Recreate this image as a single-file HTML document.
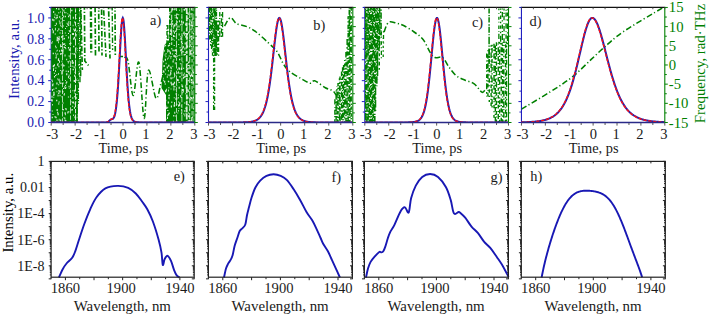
<!DOCTYPE html>
<html><head><meta charset="utf-8"><title>figure</title>
<style>html,body{margin:0;padding:0;background:#fff;width:709px;height:316px;overflow:hidden}svg{display:block;font-family:"Liberation Serif",serif}</style>
</head><body><svg width="709" height="316" viewBox="0 0 709 316" font-family="Liberation Serif, serif"><defs><clipPath id="c0"><rect x="51.2" y="6.95" width="143.6" height="116.05"/></clipPath><clipPath id="c1"><rect x="208.5" y="6.95" width="144.3" height="116.05"/></clipPath><clipPath id="c2"><rect x="364.8" y="6.95" width="143.7" height="116.05"/></clipPath><clipPath id="c3"><rect x="521.45" y="6.95" width="143.35" height="116.05"/></clipPath><clipPath id="d4"><path d="M51,7.45 L79,7.45 L79,60 L77.5,122.5 L51,122.5Z"/></clipPath><clipPath id="d5"><path d="M169,7.45 L195.5,7.45 L195.5,122.5 L166,122.5 L166,95 L161.5,88 L162.5,60 L164.5,45 L169,40Z"/></clipPath></defs><rect width="709" height="316" fill="#fff"/><path d="M51.2,7.45V122.5" stroke="#2020c0" stroke-width="1.1"/><path d="M208.5,7.45V122.5" stroke="#2020c0" stroke-width="1.1"/><path d="M364.8,7.45V122.5" stroke="#2020c0" stroke-width="1.1"/><path d="M521.45,7.45V122.5" stroke="#2020c0" stroke-width="1.1"/><path clip-path="url(#c0)" d="M51,7.45 L79,7.45 L79,60 L77.5,122.5 L51,122.5Z" fill="#008000"/><path clip-path="url(#d4)" d="M60.07,24.81h1.2v1.0h-1.2zM53.03,69.1h1.0v2.0h-1.0zM52.62,65.83h0.8v1.0h-0.8zM63.14,15.49h0.8v2.0h-0.8zM62.89,102.58h0.8v1.0h-0.8zM68.66,74.52h0.8v2.0h-0.8zM67.4,13.16h0.8v1.0h-0.8zM66.59,22.77h1.0v1.0h-1.0zM66.14,73.13h1.2v2.0h-1.2zM56.06,74.36h1.2v1.0h-1.2zM61.43,70.47h0.8v2.0h-0.8zM52.67,31.15h1.2v2.0h-1.2zM62.97,43.59h1.2v1.5h-1.2zM61.12,36.03h0.8v2.0h-0.8zM72.84,16.87h1.0v2.0h-1.0zM64.86,46.97h1.0v1.5h-1.0zM68.05,15.87h1.2v1.5h-1.2zM55.62,46.8h1.0v1.5h-1.0zM52.1,84.33h1.2v2.0h-1.2zM73.09,101.6h1.0v2.0h-1.0zM60.8,64.59h1.0v1.0h-1.0zM74.52,116.14h1.0v2.0h-1.0zM69.6,14.43h1.2v1.5h-1.2zM69.12,121.71h1.0v1.5h-1.0zM71.07,109.5h1.0v1.0h-1.0zM77.34,48.35h1.2v1.0h-1.2zM64.82,32.55h1.0v1.0h-1.0zM71.67,53.23h1.0v1.0h-1.0zM55.66,53.66h1.0v1.0h-1.0zM73.94,106.85h1.0v2.0h-1.0zM62.63,48.73h1.0v1.0h-1.0zM55.23,27.72h0.8v2.0h-0.8zM57.53,63.24h1.2v1.0h-1.2zM58.36,7.92h1.0v2.0h-1.0zM61.34,72.61h0.8v2.0h-0.8zM75.06,116.77h1.2v2.0h-1.2zM71.71,59.99h1.2v2.0h-1.2zM61.99,53.35h0.8v1.5h-0.8zM68.76,14.61h0.8v1.0h-0.8zM63.34,20.1h1.2v1.0h-1.2zM53.87,72.66h1.2v1.0h-1.2zM77.57,78.06h0.8v1.0h-0.8zM68.19,24.54h1.0v1.5h-1.0zM67.86,62h0.8v1.5h-0.8zM78.81,61.06h1.0v1.5h-1.0zM53.4,19.21h1.0v2.0h-1.0zM58.41,102.81h0.8v2.0h-0.8zM51.65,116.86h1.2v1.5h-1.2zM55.1,69.94h0.8v2.0h-0.8zM59.35,81.42h0.8v2.0h-0.8zM74.67,67.09h0.8v1.5h-0.8zM72.61,68.72h1.2v1.5h-1.2zM68.82,78h0.8v1.0h-0.8zM73.91,92.57h0.8v1.0h-0.8zM65.49,48.36h0.8v1.0h-0.8zM73.12,61.78h0.8v2.0h-0.8zM67.94,47.06h1.2v1.5h-1.2zM77.74,49.4h0.8v1.0h-0.8zM57.35,30.08h0.8v1.5h-0.8zM68.47,111.03h0.8v1.5h-0.8zM76.46,47.03h1.2v1.0h-1.2zM74.37,21.24h1.0v2.0h-1.0zM72,62.45h0.8v1.5h-0.8zM73.1,45.71h1.2v1.5h-1.2zM63.97,92.97h0.8v2.0h-0.8zM55.45,121.71h0.8v1.0h-0.8zM67.54,60.99h1.2v1.0h-1.2zM68.12,76h1.0v2.0h-1.0zM77.25,25.39h1.2v1.0h-1.2zM51.6,99.42h1.2v2.0h-1.2zM53.88,93.68h0.8v1.5h-0.8zM78.62,29.86h0.8v1.0h-0.8zM58.05,41.16h0.8v2.0h-0.8zM60.13,70.08h0.8v1.0h-0.8zM76.48,48.15h1.0v2.0h-1.0zM67.33,111.49h1.0v2.0h-1.0zM54.66,24.92h1.2v1.0h-1.2zM75.44,96.79h1.2v1.0h-1.2zM72.73,24.68h0.8v1.5h-0.8zM68.33,21.29h0.8v1.5h-0.8zM70.11,68.51h1.0v1.0h-1.0zM75.73,13.99h0.8v1.5h-0.8zM52.18,18.7h1.0v2.0h-1.0zM51.78,110.31h0.8v1.5h-0.8zM60.12,119.44h1.2v2.0h-1.2zM56.58,39.34h1.2v2.0h-1.2zM73.61,65.87h0.8v2.0h-0.8zM65.65,108.23h1.0v2.0h-1.0zM76,30.76h1.0v1.0h-1.0zM62.67,52.59h1.0v1.0h-1.0zM69.79,56.73h0.8v2.0h-0.8zM59.48,21.53h0.8v2.0h-0.8zM69.02,49.58h1.0v1.0h-1.0zM78.09,32.71h0.8v1.5h-0.8zM75.78,26.18h1.2v1.0h-1.2zM55.52,57.1h1.2v1.5h-1.2zM60.5,29.97h1.0v1.0h-1.0zM71.22,9.69h1.2v1.5h-1.2zM63.33,9.53h1.0v2.0h-1.0zM68.47,66.39h0.8v1.0h-0.8zM78.58,98.15h0.8v1.0h-0.8zM58.44,12h0.8v1.5h-0.8zM72.16,101.77h1.2v1.5h-1.2zM62.37,69.19h1.2v2.0h-1.2zM64.85,45.08h1.0v1.0h-1.0zM73.39,28.54h0.8v1.5h-0.8zM77.27,80.44h1.0v1.0h-1.0zM68.03,33.04h1.0v1.0h-1.0zM63.71,46.47h1.2v1.5h-1.2zM76.95,38.27h0.8v1.0h-0.8zM65.75,34.88h0.8v1.0h-0.8zM58.33,28.29h1.0v2.0h-1.0zM59.54,94.83h1.0v1.5h-1.0zM65,27.92h1.0v1.0h-1.0zM78.85,11.7h0.8v2.0h-0.8zM65.16,119.97h1.2v1.5h-1.2zM57.88,58.88h1.2v2.0h-1.2zM63.1,64.4h1.0v2.0h-1.0zM59.62,32.21h0.8v1.5h-0.8zM56.56,108.92h1.2v2.0h-1.2zM54.91,121.28h0.8v1.0h-0.8zM51.4,79.41h1.0v1.5h-1.0zM55.57,17.17h1.0v2.0h-1.0zM69.78,39.89h0.8v2.0h-0.8zM59.21,60.31h0.8v1.5h-0.8zM63.48,37.74h1.0v2.0h-1.0zM60.06,11.41h1.0v1.0h-1.0zM60.98,7.57h1.0v1.0h-1.0zM64.29,65.29h0.8v1.0h-0.8zM65.13,8.02h1.0v1.0h-1.0zM55.03,74.96h1.0v1.0h-1.0zM59.39,79.89h0.8v2.0h-0.8zM77.81,105.62h0.8v2.0h-0.8zM76,97.65h1.2v1.5h-1.2zM72.4,90.36h1.0v1.0h-1.0zM58.96,78.63h0.8v1.0h-0.8zM74.1,89.71h1.2v2.0h-1.2zM63.02,88.11h1.2v1.0h-1.2zM76.48,94.07h1.2v1.0h-1.2zM74.14,74.65h1.2v2.0h-1.2zM77.77,81.41h0.8v1.0h-0.8zM52.17,80.75h0.8v1.5h-0.8zM74.4,71.71h1.2v1.0h-1.2zM68.53,85.76h1.0v1.5h-1.0zM51.09,99.23h1.2v2.0h-1.2zM76.14,18.03h1.2v1.0h-1.2zM71.88,61.97h0.8v1.5h-0.8zM57.57,94.48h0.8v2.0h-0.8zM69.2,60.41h1.0v1.0h-1.0zM64.41,86.11h0.8v2.0h-0.8zM68.72,30.26h1.2v1.0h-1.2zM60.29,82.41h1.2v1.5h-1.2zM68.39,22.8h1.0v1.0h-1.0zM64.6,119.34h0.8v2.0h-0.8zM57.1,63.78h1.2v2.0h-1.2zM59,61.05h0.8v2.0h-0.8zM56.58,119.98h1.0v1.0h-1.0zM59.11,16.25h1.2v1.5h-1.2zM78.83,51.96h0.8v1.0h-0.8zM67.28,23.76h1.2v1.5h-1.2zM77.68,22.71h1.2v2.0h-1.2zM58.83,20.41h1.0v1.0h-1.0zM64.94,108.25h1.0v1.0h-1.0zM55.45,116.74h1.2v1.5h-1.2zM62.35,91.11h1.0v1.5h-1.0zM61.53,21.36h1.0v1.0h-1.0zM60.09,46.37h1.0v1.0h-1.0zM77.32,29.97h0.8v2.0h-0.8zM59.12,50.27h1.0v1.5h-1.0zM78.97,75.23h1.0v1.5h-1.0zM72.16,105.73h1.0v1.0h-1.0zM52.45,83.61h1.2v1.0h-1.2zM57.98,38.02h1.2v1.5h-1.2zM56.32,50.4h1.0v1.0h-1.0zM73.73,80.03h1.2v2.0h-1.2zM56.7,16.72h1.2v1.5h-1.2zM63.62,94.04h1.2v1.5h-1.2zM64.6,112.36h1.2v1.0h-1.2zM55.78,55.18h1.0v1.5h-1.0zM58.16,92.44h1.2v1.5h-1.2zM62.37,34.91h1.0v2.0h-1.0zM69.73,21.23h1.2v1.0h-1.2zM53.1,65.04h1.0v2.0h-1.0zM57.16,111.72h1.0v1.5h-1.0zM54.91,29.59h0.8v1.0h-0.8zM60.57,17.93h0.8v1.5h-0.8zM58.23,72.98h0.8v2.0h-0.8zM75.38,51.5h1.2v2.0h-1.2zM56.88,38.54h0.8v1.5h-0.8zM58.77,118.78h0.8v2.0h-0.8zM65.1,79.89h0.8v1.0h-0.8zM58.59,36.03h1.0v2.0h-1.0zM63.48,117.2h0.8v1.0h-0.8zM51.9,89.08h1.0v2.0h-1.0zM64.72,15.86h1.2v1.5h-1.2zM78.22,36.04h0.8v1.0h-0.8zM55.32,67.55h1.2v1.0h-1.2zM77.36,90.49h1.2v1.5h-1.2zM53.38,96.83h0.8v1.0h-0.8zM57.51,113.29h1.2v2.0h-1.2zM59.51,22.17h1.0v2.0h-1.0zM68.82,87.82h0.8v1.0h-0.8zM52.97,67.79h1.2v1.0h-1.2zM61.87,33.17h1.2v1.0h-1.2zM51.29,42.14h1.0v1.5h-1.0zM77.85,81.61h0.8v1.5h-0.8zM65.74,70.38h0.8v1.5h-0.8zM70.73,42.82h0.8v1.0h-0.8zM64.95,85.05h1.0v1.0h-1.0zM58.2,84.23h1.0v1.0h-1.0zM64.8,87.5h1.2v1.5h-1.2zM61.14,53.05h0.8v1.5h-0.8zM71.7,65.54h0.8v1.5h-0.8zM78.16,43.31h0.8v1.0h-0.8zM64.02,37.94h1.0v1.0h-1.0zM77.65,64.49h0.8v1.0h-0.8zM64.58,112.19h0.8v2.0h-0.8zM55.1,52.72h0.8v1.0h-0.8zM78.28,23.78h0.8v2.0h-0.8zM52.68,52.7h1.2v1.5h-1.2zM71.52,122.22h0.8v1.5h-0.8zM56.34,82.52h1.2v2.0h-1.2zM64.09,43.33h1.2v1.5h-1.2zM74.5,120.77h1.0v1.0h-1.0zM54.05,16.45h0.8v1.5h-0.8zM62.77,109.29h1.2v1.0h-1.2zM61.64,95.89h1.0v1.5h-1.0zM53.46,88.59h0.8v1.5h-0.8zM66.16,58.8h1.0v1.5h-1.0zM71.64,62.05h1.2v1.5h-1.2zM57.94,79.4h1.0v1.0h-1.0zM61.52,60.84h0.8v1.5h-0.8zM56.46,14.68h1.2v1.5h-1.2zM61.16,45.99h1.2v1.0h-1.2zM58.34,89.9h1.0v1.5h-1.0zM59.33,90.47h1.2v2.0h-1.2zM77.5,14.97h0.8v1.0h-0.8zM64.31,117.53h1.0v1.5h-1.0zM76.58,101.19h0.8v1.5h-0.8zM56.12,99.79h1.2v1.5h-1.2zM74.04,96.36h1.2v1.0h-1.2zM60.18,44.21h1.0v2.0h-1.0zM53.21,30.15h0.8v1.0h-0.8zM62.42,82.18h1.0v2.0h-1.0zM66.25,25.94h1.0v1.0h-1.0zM78.66,37.93h0.8v1.0h-0.8zM53.7,64.8h1.2v1.5h-1.2zM55.85,22.74h1.0v2.0h-1.0zM75.96,34.48h1.2v2.0h-1.2zM72.27,97.16h1.0v1.5h-1.0zM58.82,38.24h1.0v2.0h-1.0zM58.29,58h0.8v1.0h-0.8zM57.59,39.82h1.2v1.0h-1.2zM60.14,53.02h0.8v2.0h-0.8zM65.74,82.19h0.8v2.0h-0.8zM63.99,11.71h0.8v1.5h-0.8zM75.72,34.04h1.0v1.5h-1.0zM52.13,41.24h0.8v1.0h-0.8zM56.31,119.39h1.2v1.0h-1.2zM77.04,50.28h0.8v1.5h-0.8zM67.89,96.61h1.2v1.0h-1.2zM53.96,76.04h1.2v1.5h-1.2zM57.09,49.87h0.8v1.0h-0.8zM56.71,36.78h1.2v2.0h-1.2zM69.25,30.86h0.8v1.5h-0.8zM62.45,50.23h1.2v1.5h-1.2zM53.18,11.07h1.0v2.0h-1.0zM64.54,54.41h1.0v2.0h-1.0zM66.4,80.99h0.8v2.0h-0.8zM55.58,87.46h1.0v1.5h-1.0zM69.7,55.52h0.8v1.5h-0.8zM71.87,109.12h1.0v1.5h-1.0zM51.51,95.65h1.0v2.0h-1.0zM56.52,91.21h0.8v1.0h-0.8zM63.16,25.46h0.8v1.0h-0.8zM62.37,109.02h1.0v1.0h-1.0zM54.64,13.4h0.8v2.0h-0.8zM73.58,53.09h1.2v2.0h-1.2zM76.96,92.27h0.8v1.0h-0.8zM60.74,26.07h0.8v1.0h-0.8zM54.05,63.88h0.8v1.5h-0.8zM54.55,115.95h1.0v1.5h-1.0zM52.49,114.01h1.0v1.0h-1.0zM76.32,78.82h0.8v2.0h-0.8zM73,33h1.0v2.0h-1.0zM74.7,102.85h0.8v2.0h-0.8zM57.11,53.44h1.2v1.0h-1.2zM61.74,21.61h0.8v2.0h-0.8zM73.84,29.61h1.2v2.0h-1.2zM52.07,103.89h0.8v1.5h-0.8zM67.79,70.73h1.2v1.5h-1.2zM69.17,42.91h0.8v1.5h-0.8zM61.9,49.73h1.2v1.5h-1.2zM56.01,7.85h1.0v1.5h-1.0zM57.59,95.3h1.0v1.0h-1.0zM73.69,53.51h0.8v1.0h-0.8zM61.04,49.48h1.0v2.0h-1.0zM65.28,12.14h1.2v1.0h-1.2zM53.3,91.84h1.2v2.0h-1.2zM53.24,93.97h1.0v2.0h-1.0zM77.62,23.12h0.8v2.0h-0.8zM71.5,101.21h0.8v1.0h-0.8zM78.49,64.04h0.8v2.0h-0.8zM73.07,114.51h0.8v1.5h-0.8zM68.09,36.47h1.0v2.0h-1.0zM58.7,101.29h0.8v1.5h-0.8zM65.06,113.29h0.8v2.0h-0.8zM58.36,65.67h1.0v1.5h-1.0zM52.03,28.4h0.8v2.0h-0.8zM77.22,85.65h1.0v1.0h-1.0zM73.18,37.86h1.2v1.0h-1.2zM68.82,48.84h1.0v2.0h-1.0zM65.6,86.69h0.8v1.5h-0.8zM78.8,79.91h1.0v2.0h-1.0zM73.33,37.91h1.0v2.0h-1.0zM55.09,45.51h0.8v1.5h-0.8zM57.44,78.25h0.8v1.5h-0.8zM73.96,36.63h1.2v2.0h-1.2zM77,110.5h1.2v1.0h-1.2zM71.92,32.95h1.0v2.0h-1.0zM68.52,55.5h1.0v1.0h-1.0zM54.7,33.6h1.2v1.0h-1.2zM62,7.45h0.8v3.09h-0.8zM62,11.54h0.8v4.42h-0.8zM62,17.12h0.8v4.43h-0.8zM62,22.89h0.8v5.33h-0.8zM62,30.11h0.8v3.82h-0.8zM62,35.86h0.8v4.9h-0.8zM62,41.96h0.8v6.75h-0.8zM62,50.07h0.8v3.6h-0.8zM62,54.81h0.8v5.55h-0.8zM62,62.67h0.8v6.13h-0.8zM62,70.4h0.8v4.06h-0.8zM62,75.48h0.8v5.58h-0.8zM62,82.9h0.8v4.4h-0.8zM62,89.27h0.8v4.78h-0.8zM62,96.45h0.8v5.93h-0.8zM62,103.76h0.8v6.61h-0.8zM62,111.44h0.8v5.13h-0.8zM62,118.17h0.8v3.95h-0.8zM70,7.45h0.8v6.12h-0.8zM70,14.58h0.8v5.2h-0.8zM70,22.2h0.8v3.57h-0.8zM70,27.07h0.8v5.43h-0.8zM70,34.26h0.8v5.57h-0.8zM70,42.05h0.8v3.7h-0.8zM70,47.21h0.8v4.2h-0.8zM70,52.48h0.8v6.56h-0.8zM70,61.21h0.8v5.86h-0.8zM70,68.09h0.8v6.38h-0.8zM70,76.58h0.8v4.86h-0.8zM70,83.56h0.8v4.81h-0.8zM70,89.7h0.8v3.42h-0.8zM70,94.47h0.8v3.16h-0.8zM70,99.13h0.8v6h-0.8zM70,107.17h0.8v6.38h-0.8zM70,115.62h0.8v4.06h-0.8zM70,121.52h0.8v0.98h-0.8zM75,7.45h1.0v5.09h-1.0zM75,13.94h1.0v5.57h-1.0zM75,21.96h1.0v3.87h-1.0zM75,28.14h1.0v3.06h-1.0zM75,32.6h1.0v3.94h-1.0zM75,38.66h1.0v6.78h-1.0zM75,47.55h1.0v4.31h-1.0zM75,54.18h1.0v4.31h-1.0zM75,59.86h1.0v6.63h-1.0zM75,68.43h1.0v5.77h-1.0zM75,76.2h1.0v6.92h-1.0zM75,84.82h1.0v6.36h-1.0zM75,93.23h1.0v6.43h-1.0zM75,101.31h1.0v5.9h-1.0zM75,109.07h1.0v4.23h-1.0zM75,114.62h1.0v5.49h-1.0zM75,121.22h1.0v1.28h-1.0z" fill="#ffffff" fill-opacity="0.85"/><path clip-path="url(#c0)" stroke="#008000" stroke-width="1.4" fill="none" d="M77.22,7.45V10.4M77.22,11.25V12.61M77.22,14.17V20.26M77.22,21.94V22.79M77.22,24.3V29.39M77.22,31.17V32.63M77.22,34.5V38.7M77.22,40.54V42.07M77.22,44V48.32M77.22,49.37V50.26M77.22,51.1V57.65M77.22,59.42V60.73M77.22,62.52V68.41M77.22,69.56V70.44M77.22,71.35V77.63M77.22,78.67V79.73M77.22,81.04V85.1M77.22,86.21V87.23M77.22,88.89V94M77.22,95.18V96.75M77.22,98.16V104.71M77.22,106.25V107.08M77.22,108.37V113.68M77.22,115.41V116.49M77.22,118.13V122.5M78.36,7.45V7.54M78.36,8.35V12.95M78.36,14.67V16.25M78.36,17.05V22.53M78.36,23.92V25.35M78.36,26.38V31.86M78.36,33.08V34.54M78.36,35.65V42.49M78.36,43.63V44.6M78.36,46.24V51.73M78.36,52.66V53.97M78.36,54.87V61.23M78.36,62.87V64.3M78.36,65.85V70.92M78.36,72.2V73.32M78.36,75.19V79.45M78.36,81.31V82.13M78.36,83.18V87.97M78.36,89.85V91.05M78.36,92.31V98.96M78.36,100.04V101.21M78.36,102.64V103.78M79.96,8.52V9.44M79.96,11.25V17.24M79.96,18.93V19.87M79.96,21.19V27.51M79.96,29.01V29.91M79.96,31.26V37.92M79.96,39V39.96M79.96,41.12V47.23M79.96,49.04V49.96M79.96,50.95V55.69M79.96,56.89V58.1M79.96,59.1V64.08M79.96,65.11V66.69M79.96,68.36V72.67M79.96,74.62V75.5M79.96,76.77V82.34M80.71,7.92V9.23M80.71,10.16V14.78M80.71,16.05V16.87M80.71,18.15V24.53M80.71,26.16V27.36M80.71,28.92V34.31M80.71,35.28V36.56M80.71,37.85V44.07M80.71,45.96V47.1M80.71,48.59V54.84M80.71,56.14V57.13M80.71,58.79V65.43M80.71,67.16V68.52M80.71,70.35V76.34"/><path clip-path="url(#c0)" d="M80.8,8 L82.3,70" stroke="#008000" stroke-width="1.7" fill="none" stroke-dasharray="5.5,2.0,1.3,2.0" stroke-dashoffset="5.4"/><path clip-path="url(#c0)" d="M84.4,8 L84.8,61 L88.5,65.5" stroke="#008000" stroke-width="1.7" fill="none" stroke-dasharray="5.5,2.0,1.3,2.0" stroke-dashoffset="3.8"/><path clip-path="url(#c0)" d="M90.9,8 L91.2,53" stroke="#008000" stroke-width="2.4" fill="none" stroke-dasharray="5.5,2.0,1.3,2.0" stroke-dashoffset="7.5"/><path clip-path="url(#c0)" d="M95.1,8 L95.5,57" stroke="#008000" stroke-width="1.7" fill="none" stroke-dasharray="5.5,2.0,1.3,2.0" stroke-dashoffset="1.2"/><path clip-path="url(#c0)" d="M98.7,8 L99,51.5" stroke="#008000" stroke-width="1.7" fill="none" stroke-dasharray="5.5,2.0,1.3,2.0" stroke-dashoffset="5.0"/><path clip-path="url(#c0)" d="M101.6,8 L102,55.6" stroke="#008000" stroke-width="1.7" fill="none" stroke-dasharray="5.5,2.0,1.3,2.0" stroke-dashoffset="9.4"/><path clip-path="url(#c0)" d="M103.6,8 L106,57" stroke="#008000" stroke-width="1.6" fill="none" stroke-dasharray="5.5,2.0,1.3,2.0" stroke-dashoffset="8.6"/><path clip-path="url(#c0)" d="M108.6,8 L110,58.5" stroke="#008000" stroke-width="1.7" fill="none" stroke-dasharray="5.5,2.0,1.3,2.0" stroke-dashoffset="7.6"/><path clip-path="url(#c0)" d="M112.2,8 L112.6,50" stroke="#008000" stroke-width="1.4" fill="none" stroke-dasharray="5.5,2.0,1.3,2.0" stroke-dashoffset="3.0"/><path clip-path="url(#c0)" d="M115,8 L115.3,55" stroke="#008000" stroke-width="1.7" fill="none" stroke-dasharray="5.5,2.0,1.3,2.0" stroke-dashoffset="5.1"/><path clip-path="url(#c0)" d="M169,7.45 L195.5,7.45 L195.5,122.5 L166,122.5 L166,95 L161.5,88 L162.5,60 L164.5,45 L169,40Z" fill="#008000"/><path clip-path="url(#d5)" d="M176.98,78.96h1.0v2.0h-1.0zM184.46,114.47h0.8v2.0h-0.8zM172.65,8.67h1.0v1.0h-1.0zM162.8,69.96h0.8v2.0h-0.8zM188.08,115.66h1.2v1.5h-1.2zM164.94,73.55h1.2v1.0h-1.2zM185.89,66.38h1.2v1.5h-1.2zM179.24,54.66h1.0v1.0h-1.0zM195.17,28.6h1.2v1.0h-1.2zM186.29,78.09h1.2v1.0h-1.2zM170.08,51.38h0.8v1.0h-0.8zM164.06,112.77h1.2v2.0h-1.2zM184.45,74.2h0.8v1.0h-0.8zM171.82,53.52h1.2v1.0h-1.2zM195.3,118h1.0v1.0h-1.0zM167.09,114.38h0.8v2.0h-0.8zM168.07,81.34h1.2v1.0h-1.2zM189.2,24.28h1.2v2.0h-1.2zM189.74,98.94h1.0v1.5h-1.0zM195.37,94.88h1.2v1.0h-1.2zM188.01,61.45h0.8v1.5h-0.8zM185.44,86.54h1.0v2.0h-1.0zM167.82,7.76h1.2v1.5h-1.2zM173.67,82.74h1.0v1.5h-1.0zM177.99,79.17h0.8v2.0h-0.8zM192,25.02h1.0v1.5h-1.0zM163.44,102.7h1.0v1.0h-1.0zM179.54,47.16h1.2v1.0h-1.2zM183.85,31.58h0.8v2.0h-0.8zM171.46,77.42h1.2v1.0h-1.2zM190.54,28.81h1.0v1.5h-1.0zM188.19,31.44h1.0v2.0h-1.0zM167.21,109.98h1.2v1.0h-1.2zM184.23,110.29h1.2v1.5h-1.2zM168.21,87.16h1.2v1.0h-1.2zM186.73,57.91h0.8v2.0h-0.8zM165.53,55.66h0.8v1.5h-0.8zM178.26,14.18h1.0v1.0h-1.0zM185.31,35.82h0.8v2.0h-0.8zM181.89,91.96h0.8v1.5h-0.8zM177.41,72.17h1.2v1.5h-1.2zM190.08,50.59h1.0v2.0h-1.0zM164.06,80.74h1.2v2.0h-1.2zM162.47,77.59h1.2v2.0h-1.2zM193.17,45.47h0.8v2.0h-0.8zM177.96,94.56h0.8v1.0h-0.8zM168.75,55.26h0.8v1.5h-0.8zM164.71,83.27h1.0v1.5h-1.0zM187.97,71.2h0.8v1.5h-0.8zM176.3,56.05h1.2v1.0h-1.2zM189.61,41.15h1.0v1.5h-1.0zM172.85,120.69h1.2v1.5h-1.2zM194.65,82.76h0.8v1.5h-0.8zM168.04,89.5h0.8v2.0h-0.8zM194.57,17.53h0.8v1.5h-0.8zM186.07,109.34h1.2v2.0h-1.2zM163.19,42.01h0.8v1.0h-0.8zM167.96,113.46h1.2v2.0h-1.2zM163.55,65.07h1.2v2.0h-1.2zM174.29,24.37h1.2v2.0h-1.2zM184.93,108.27h0.8v1.0h-0.8zM162.84,80.34h1.2v1.0h-1.2zM164.95,28.31h0.8v1.5h-0.8zM187.83,112.62h1.2v1.0h-1.2zM174.04,102.09h1.0v2.0h-1.0zM185.64,106.67h0.8v1.5h-0.8zM162.66,9.8h1.2v2.0h-1.2zM181.16,112.59h1.0v2.0h-1.0zM179.25,102.34h1.0v2.0h-1.0zM185.15,54h0.8v1.0h-0.8zM184.62,75.77h1.2v1.0h-1.2zM177.67,54.9h0.8v1.0h-0.8zM183.41,31.87h0.8v2.0h-0.8zM162.03,8h1.2v2.0h-1.2zM165.64,118.63h0.8v1.0h-0.8zM191.06,22.29h0.8v1.5h-0.8zM185.96,35.32h1.2v2.0h-1.2zM167.87,13.22h1.2v2.0h-1.2zM185.12,24.11h0.8v1.5h-0.8zM182.87,89.05h1.0v2.0h-1.0zM193.2,36.68h0.8v2.0h-0.8zM162.59,14.42h1.2v2.0h-1.2zM189.29,16.62h1.0v1.5h-1.0zM186.3,26.55h1.0v2.0h-1.0zM163.53,49.74h1.2v2.0h-1.2zM176.42,85.32h0.8v1.0h-0.8zM173.85,81.64h1.2v1.5h-1.2zM177.72,96.97h1.0v1.5h-1.0zM188.18,72.66h1.0v1.5h-1.0zM163.56,119.5h1.2v2.0h-1.2zM172.79,77.15h0.8v1.0h-0.8zM181.94,42.95h1.0v1.0h-1.0zM174.31,86.24h1.2v1.0h-1.2zM188.95,40.04h0.8v1.5h-0.8zM170.44,56.06h1.2v1.0h-1.2zM171.31,23.63h1.2v1.0h-1.2zM170.81,105.38h1.2v2.0h-1.2zM187.92,64.97h1.2v1.0h-1.2zM179.86,63.22h1.0v1.0h-1.0zM188.28,90.54h0.8v1.5h-0.8zM182.13,85.42h1.0v2.0h-1.0zM168.52,36.76h0.8v1.5h-0.8zM177.13,17.54h1.0v1.0h-1.0zM169.42,74.13h1.0v2.0h-1.0zM172.41,65.68h0.8v1.0h-0.8zM168.73,18.06h1.2v1.5h-1.2zM173.84,72.39h1.0v2.0h-1.0zM190.64,35.79h1.0v1.5h-1.0zM190.96,50.21h1.0v1.0h-1.0zM166.81,76.16h1.0v1.5h-1.0zM179.16,9.82h0.8v1.0h-0.8zM195.17,107.09h1.0v2.0h-1.0zM180.78,37.55h1.0v1.5h-1.0zM164.8,58.86h1.2v2.0h-1.2zM194.26,36.67h0.8v1.5h-0.8zM168.33,28.24h0.8v1.0h-0.8zM163.23,71.58h1.2v1.5h-1.2zM178.05,104.74h0.8v2.0h-0.8zM183.25,113.54h1.2v1.0h-1.2zM170.24,72.39h1.2v1.0h-1.2zM194.02,84.5h1.0v1.0h-1.0zM176.74,25.83h0.8v2.0h-0.8zM169.04,11.89h1.0v1.5h-1.0zM163.52,71.05h0.8v1.0h-0.8zM170.27,66.51h1.2v2.0h-1.2zM187.4,63.07h0.8v1.0h-0.8zM172.3,8.11h0.8v2.0h-0.8zM186.94,75.3h1.0v2.0h-1.0zM165.08,44.72h1.0v1.5h-1.0zM165.72,62.83h0.8v1.5h-0.8zM169.61,23.92h1.2v1.0h-1.2zM177.41,112.44h0.8v1.0h-0.8zM193.04,32.82h1.2v1.5h-1.2zM191.72,23.53h1.0v1.0h-1.0zM192.98,51.75h0.8v2.0h-0.8zM164.06,119.31h1.0v1.0h-1.0zM177.74,79.72h0.8v1.5h-0.8zM169.04,13.98h1.2v1.5h-1.2zM180.31,24.1h0.8v1.5h-0.8zM175.72,35.84h0.8v1.5h-0.8zM180.91,41.57h0.8v1.5h-0.8zM178.19,44.04h1.0v1.0h-1.0zM166.71,66.52h1.2v2.0h-1.2zM192.96,71.87h1.0v1.0h-1.0zM170.26,30.65h1.0v1.5h-1.0zM195.19,122.28h0.8v1.0h-0.8zM174.76,55.27h0.8v1.0h-0.8zM189.8,120.03h0.8v2.0h-0.8zM162.04,100.3h1.0v2.0h-1.0zM166.26,7.67h1.2v1.5h-1.2zM167.82,57.53h1.0v1.0h-1.0zM170.91,28.24h0.8v2.0h-0.8zM187.7,89.32h0.8v2.0h-0.8zM164.2,17.51h1.2v2.0h-1.2zM178.35,38.96h0.8v1.0h-0.8zM182.32,88.88h0.8v2.0h-0.8zM171.97,8.6h1.2v2.0h-1.2zM179.17,104.21h0.8v2.0h-0.8zM189.06,46.02h1.2v1.5h-1.2zM164.57,54.56h1.0v1.0h-1.0zM191.15,38.08h0.8v2.0h-0.8zM189.78,49.68h0.8v2.0h-0.8zM174.12,75.89h0.8v1.5h-0.8zM179.17,58.74h1.2v1.0h-1.2zM165.61,89.66h1.0v2.0h-1.0zM191.02,73.75h0.8v1.5h-0.8zM191.18,117.21h1.0v1.5h-1.0zM178.95,68.49h1.2v1.0h-1.2zM162.2,118.75h0.8v2.0h-0.8zM167.7,19.26h1.0v2.0h-1.0zM189.28,10.91h0.8v2.0h-0.8zM186.62,37.53h1.2v2.0h-1.2zM181.1,67.61h1.2v1.5h-1.2zM165,107.49h1.2v1.0h-1.2zM163.04,21.61h1.0v2.0h-1.0zM178.53,39.62h0.8v1.0h-0.8zM175.29,23.21h1.2v1.0h-1.2zM190.78,24.39h1.2v1.5h-1.2zM186.88,26.36h0.8v2.0h-0.8zM174.72,55.83h1.2v2.0h-1.2zM162.73,119.11h0.8v1.5h-0.8zM173.01,35.11h1.0v2.0h-1.0zM176.31,120.34h1.0v1.5h-1.0zM190.32,13.61h1.2v1.0h-1.2zM194.07,114.95h0.8v1.5h-0.8zM184.05,8.78h0.8v2.0h-0.8zM167.87,44.77h0.8v2.0h-0.8zM184.25,33.39h1.0v1.5h-1.0zM187.9,115.24h1.2v1.0h-1.2zM189.02,109.2h0.8v1.0h-0.8zM190.93,78.89h1.2v2.0h-1.2zM170.8,69.84h0.8v2.0h-0.8zM164.92,21.45h0.8v1.5h-0.8zM169.55,11.99h0.8v1.5h-0.8zM173.32,26.66h0.8v2.0h-0.8zM194.11,113.42h1.0v1.0h-1.0zM177.36,68.87h0.8v1.5h-0.8zM165.71,22.56h1.0v1.5h-1.0zM181.13,38.99h1.2v1.0h-1.2zM186.67,40.49h1.0v2.0h-1.0zM185.12,32.95h1.0v1.0h-1.0zM180.15,49.65h1.2v1.5h-1.2zM182.34,61.4h1.0v1.0h-1.0zM169.74,32.94h1.2v2.0h-1.2zM174.53,74.83h0.8v1.5h-0.8zM167.02,116.99h1.0v2.0h-1.0zM172.57,38.51h0.8v1.5h-0.8zM163.43,9.96h1.2v1.0h-1.2zM182.1,47.49h1.2v1.0h-1.2zM179.08,103.44h1.0v2.0h-1.0zM187.44,67.38h1.2v2.0h-1.2zM193.25,55.4h1.2v1.5h-1.2zM166.27,30.75h1.2v1.5h-1.2zM189.42,67.02h1.2v2.0h-1.2zM192.85,121.99h1.0v2.0h-1.0zM185.59,112.69h0.8v1.5h-0.8zM191.11,7.95h1.2v2.0h-1.2zM165.49,53.18h1.2v1.0h-1.2zM175.71,97.61h1.2v2.0h-1.2zM165.27,105.44h1.2v1.5h-1.2zM171.29,48.02h1.0v1.5h-1.0zM179.39,75.95h1.2v1.5h-1.2zM161.73,93.25h1.0v1.5h-1.0zM176.6,28.64h1.0v1.0h-1.0zM176.31,50.82h0.8v1.0h-0.8zM189.44,45.43h1.2v1.0h-1.2zM194.1,30.96h1.0v1.0h-1.0zM162.37,36.97h1.0v1.5h-1.0zM192.79,96.44h1.2v2.0h-1.2zM195.44,66.98h1.2v2.0h-1.2zM184.8,52.26h1.0v1.0h-1.0zM181.72,47.84h0.8v2.0h-0.8zM163.82,33.83h1.0v1.5h-1.0zM178.53,82.06h1.2v1.0h-1.2zM191.41,118.41h1.0v1.5h-1.0zM176.47,79.31h1.2v1.5h-1.2zM185.01,93.33h0.8v1.0h-0.8zM173.83,49.63h0.8v1.5h-0.8zM178.93,20.16h1.0v2.0h-1.0zM173.17,115.07h1.2v1.5h-1.2zM182.96,67.74h1.2v1.0h-1.2zM178.67,29.09h0.8v1.0h-0.8zM182.92,76.84h1.0v2.0h-1.0zM195.29,80.68h0.8v2.0h-0.8zM175.49,98.07h1.0v2.0h-1.0zM184.98,7.9h1.0v1.5h-1.0zM190.13,74.89h1.2v1.0h-1.2zM168.19,64.73h1.2v2.0h-1.2zM170.54,81.87h1.2v2.0h-1.2zM195.4,73.54h1.0v2.0h-1.0zM165.63,25.49h1.2v1.0h-1.2zM162.49,16.21h1.2v1.5h-1.2zM189.49,77.98h0.8v2.0h-0.8zM161.92,96.11h1.0v1.0h-1.0zM185.83,48.16h0.8v1.0h-0.8zM170.56,18.89h1.2v1.0h-1.2zM173.36,59.2h1.0v1.0h-1.0zM163.36,109.91h1.2v1.0h-1.2zM176.45,78.8h0.8v1.0h-0.8zM163,114.54h0.8v1.5h-0.8zM161.71,107.2h1.0v1.5h-1.0zM175.72,36.44h1.0v1.0h-1.0zM169.76,52.3h1.2v2.0h-1.2zM169.03,43.02h1.2v1.5h-1.2zM162.26,107.34h0.8v1.0h-0.8zM167.28,51.06h0.8v1.5h-0.8zM174.96,49.21h1.0v2.0h-1.0zM191.13,46.09h1.2v1.0h-1.2zM194.18,56.03h1.0v2.0h-1.0zM169.83,29.45h1.0v1.5h-1.0zM169.56,11.47h1.2v1.0h-1.2zM173.11,25.39h1.2v1.0h-1.2zM164.65,38.48h0.8v2.0h-0.8zM176.57,103.67h0.8v1.0h-0.8zM174.01,32.36h1.0v1.5h-1.0zM182.9,74.26h1.0v1.5h-1.0zM178.66,33.6h1.0v2.0h-1.0zM165.95,88.73h1.0v2.0h-1.0zM192.09,75.05h1.0v2.0h-1.0zM169.87,77.42h0.8v1.0h-0.8zM191.16,21.58h1.2v1.0h-1.2zM179.95,38.56h1.0v1.0h-1.0zM183.86,72.76h1.0v1.0h-1.0zM174.76,17.35h0.8v1.0h-0.8zM172.42,83.7h0.8v1.0h-0.8zM180.61,49.04h1.2v1.5h-1.2zM168.06,90.14h0.8v1.0h-0.8zM171.31,101.43h1.0v1.5h-1.0zM173.6,104.59h1.0v2.0h-1.0zM191.51,106.54h0.8v1.5h-0.8zM167.5,49.63h1.2v2.0h-1.2zM173.45,54.92h1.2v2.0h-1.2zM185.27,36.03h1.0v1.5h-1.0zM192.31,18.69h1.0v1.0h-1.0zM170.71,77.51h0.8v2.0h-0.8zM184.53,54.01h1.2v1.0h-1.2zM176.14,94.54h0.8v1.5h-0.8zM186.6,71h1.2v2.0h-1.2zM193.51,72.4h0.8v2.0h-0.8zM178.43,67.37h1.0v2.0h-1.0zM184.77,47.61h0.8v1.0h-0.8zM189.87,96.78h1.0v1.0h-1.0zM191.25,74.77h1.2v1.0h-1.2zM194.62,85.81h0.8v1.5h-0.8zM168.64,112.66h1.2v1.0h-1.2zM175.69,93.04h1.2v2.0h-1.2zM189.68,39.8h0.8v1.5h-0.8zM193.68,56.23h1.0v2.0h-1.0zM178.6,86.65h1.2v2.0h-1.2zM176.89,13.7h1.2v1.0h-1.2zM176.06,66.34h0.8v1.5h-0.8zM187.41,12.48h1.2v2.0h-1.2zM170.38,70.31h1.2v1.0h-1.2zM179.99,36.18h0.8v1.0h-0.8zM173.67,54.81h0.8v2.0h-0.8zM172.06,23.16h1.2v1.5h-1.2zM184.29,34.82h0.8v1.0h-0.8zM179.02,58.65h1.2v1.5h-1.2zM185.23,22.8h1.2v1.0h-1.2zM181.48,35.15h1.2v1.0h-1.2zM180.14,94.95h0.8v2.0h-0.8zM184.16,76.33h1.0v1.5h-1.0zM189.76,20.62h1.0v1.0h-1.0zM173.76,31.2h0.8v1.5h-0.8zM171.83,20.17h1.0v1.5h-1.0zM194.24,26.01h1.0v1.5h-1.0zM180.85,40.76h1.2v1.0h-1.2zM163.05,61.35h1.0v1.0h-1.0zM186.91,45.61h1.2v2.0h-1.2zM170.49,81.67h1.0v1.5h-1.0zM167.95,69.93h0.8v1.5h-0.8zM192.76,81.6h1.2v2.0h-1.2zM193.3,82.53h1.0v2.0h-1.0zM169.86,23.4h0.8v1.0h-0.8zM187.83,104.04h1.0v1.5h-1.0zM167.81,80.86h1.2v1.0h-1.2zM164.97,90.15h1.0v2.0h-1.0zM182.47,51.1h1.2v1.5h-1.2zM172.39,49.85h1.2v1.5h-1.2zM189.99,36.62h0.8v1.0h-0.8zM165.15,99.81h1.2v1.5h-1.2zM192.28,116.16h1.0v1.5h-1.0zM178.48,25.57h1.0v2.0h-1.0zM181.26,16.68h1.2v1.0h-1.2zM167.06,58.44h1.0v1.0h-1.0zM194.79,105.32h1.0v1.0h-1.0zM168.92,50.3h0.8v2.0h-0.8zM190.58,97.99h1.0v1.0h-1.0zM171.13,83.57h1.2v2.0h-1.2zM175.82,46.41h1.0v1.0h-1.0zM184.15,102.49h1.2v1.0h-1.2zM174.38,7.93h1.2v2.0h-1.2zM173.34,29.93h0.8v2.0h-0.8zM172.51,60.43h1.2v2.0h-1.2zM190.92,119.55h1.2v2.0h-1.2zM164.27,100.61h1.2v2.0h-1.2zM172.77,83.2h1.2v2.0h-1.2zM175.82,49.86h1.2v2.0h-1.2zM166.15,107h1.2v2.0h-1.2zM162.45,29.18h1.2v2.0h-1.2zM176.71,17.25h1.2v2.0h-1.2zM174.15,74.27h1.0v1.5h-1.0zM179.52,72.43h1.0v1.5h-1.0zM165.38,28.22h0.8v2.0h-0.8zM186.99,32.91h1.0v2.0h-1.0zM164.73,68.52h1.0v2.0h-1.0zM178.14,71.19h0.8v2.0h-0.8zM180.97,20.45h1.2v2.0h-1.2zM180.77,105.42h1.2v1.0h-1.2zM188.71,22.9h1.2v2.0h-1.2zM178.75,103.93h0.8v2.0h-0.8zM195.18,90.47h0.8v1.5h-0.8zM189.73,52.55h0.8v1.0h-0.8zM180.64,96.61h0.8v1.5h-0.8zM187.89,14.07h0.8v1.0h-0.8zM174.16,9.2h1.2v1.0h-1.2zM177.13,21.32h0.8v1.5h-0.8zM192.39,17.54h0.8v2.0h-0.8zM165.4,91.23h1.0v1.0h-1.0zM173.98,104.26h1.2v2.0h-1.2zM161.9,36.86h0.8v1.5h-0.8zM178.95,67.82h1.0v2.0h-1.0zM178.13,101.39h1.0v1.0h-1.0zM173.6,45.11h1.2v1.0h-1.2zM162.66,112.17h0.8v1.5h-0.8zM173.55,87.29h0.8v2.0h-0.8zM176.46,98.48h1.0v1.0h-1.0zM164.01,37.18h0.8v2.0h-0.8zM193.16,107.97h1.2v1.5h-1.2zM189.93,75.14h1.0v2.0h-1.0zM195.41,95.05h1.0v1.5h-1.0zM161.97,46.84h0.8v1.5h-0.8zM178.56,107.9h0.8v1.0h-0.8zM167.7,101.6h1.2v2.0h-1.2zM174.85,62.19h0.8v2.0h-0.8zM190.23,52.71h1.2v2.0h-1.2zM164.08,45.33h0.8v1.5h-0.8zM191.9,75.24h0.8v1.0h-0.8zM167.27,48.98h1.0v1.5h-1.0zM181.12,52.08h1.0v1.5h-1.0zM161.7,74.08h1.0v1.0h-1.0zM162.2,60.3h1.2v1.0h-1.2zM182.95,91.09h0.8v1.5h-0.8zM174.57,14.75h1.0v1.5h-1.0zM180.84,68.21h0.8v2.0h-0.8zM162.66,71.95h0.8v1.0h-0.8zM187.83,80.29h1.2v1.0h-1.2zM173.84,39.85h0.8v1.0h-0.8zM184.67,42.42h1.0v2.0h-1.0zM173.83,105.61h0.8v1.5h-0.8zM191.18,89.79h1.0v1.0h-1.0zM185.44,84.74h1.0v2.0h-1.0zM173.99,35.46h0.8v1.5h-0.8zM166.63,31.08h1.2v1.5h-1.2zM175.27,53.02h1.0v1.0h-1.0zM181.45,24h1.2v1.5h-1.2zM170.07,73.25h1.2v1.5h-1.2zM164,29.34h0.8v2.0h-0.8zM167.58,74.23h1.0v1.5h-1.0zM194.5,86.87h1.2v1.0h-1.2zM190.01,44.18h0.8v1.5h-0.8zM192.02,70.32h0.8v2.0h-0.8zM170.61,88.49h0.8v1.0h-0.8zM175.09,30.5h1.2v1.5h-1.2zM190.88,82.01h0.8v1.0h-0.8zM186.45,118.26h1.2v1.0h-1.2zM164.2,100.58h1.2v1.5h-1.2zM185.95,8.03h1.0v2.0h-1.0zM183.34,9.18h1.0v1.0h-1.0zM168.72,45.04h1.2v1.0h-1.2zM183.56,54.08h1.2v1.5h-1.2zM167.43,106.77h0.8v1.0h-0.8zM182.79,45.94h1.0v2.0h-1.0zM175.08,115.62h0.8v1.0h-0.8zM192.96,72.35h1.0v1.0h-1.0zM175.61,89.15h1.0v1.0h-1.0zM164.68,25.42h0.8v2.0h-0.8zM187.58,17.79h1.0v1.5h-1.0zM173.2,85.7h1.2v1.0h-1.2zM183.85,76.66h1.0v1.0h-1.0zM186.7,37.11h1.2v1.5h-1.2zM187.45,96.73h1.0v2.0h-1.0zM187.77,119.9h1.0v2.0h-1.0zM170.96,67.66h1.0v1.0h-1.0zM170.1,71.66h0.8v2.0h-0.8zM189.01,119.84h0.8v2.0h-0.8zM169.26,94.5h0.8v1.0h-0.8zM182.74,21.51h1.2v2.0h-1.2zM168.47,96.89h1.0v2.0h-1.0zM173.93,24.63h0.8v2.0h-0.8zM190.59,97.08h1.2v1.0h-1.2zM173.43,89.09h1.0v1.5h-1.0zM168.75,112.42h1.0v1.5h-1.0zM168.71,98.32h0.8v1.0h-0.8zM183.94,9.23h1.2v1.5h-1.2zM184.42,47.8h0.8v2.0h-0.8zM174.28,111.8h1.0v2.0h-1.0zM182.82,33.23h1.0v1.0h-1.0zM170.42,57.36h0.8v1.5h-0.8zM168.41,94.79h1.2v1.5h-1.2zM171.65,121.85h0.8v2.0h-0.8zM188.39,62.37h1.0v1.0h-1.0zM189.48,39.96h1.0v1.0h-1.0zM178.01,109.96h0.8v1.5h-0.8zM184.71,76.2h1.0v1.0h-1.0zM181.19,109.02h0.8v2.0h-0.8zM173.75,97.17h1.0v1.0h-1.0zM176.28,23.53h1.0v2.0h-1.0zM162.33,20.28h0.8v1.0h-0.8zM185.9,7.45h1.7v6.65h-1.7zM185.9,15.32h1.7v5.94h-1.7zM185.9,22.41h1.7v3.67h-1.7zM185.9,28.11h1.7v3.36h-1.7zM185.9,32.98h1.7v6.67h-1.7zM185.9,41.73h1.7v6.53h-1.7zM185.9,50.73h1.7v3.13h-1.7zM185.9,55.21h1.7v6.17h-1.7zM185.9,63.41h1.7v3.15h-1.7zM185.9,68.32h1.7v3.93h-1.7zM185.9,73.9h1.7v3.42h-1.7zM185.9,78.34h1.7v6.96h-1.7zM185.9,86.78h1.7v6.51h-1.7zM185.9,94.48h1.7v4.95h-1.7zM185.9,100.63h1.7v4.71h-1.7zM185.9,106.61h1.7v5.74h-1.7zM185.9,113.58h1.7v5.95h-1.7zM185.9,121.28h1.7v1.22h-1.7zM171.2,7.45h1.0v4.99h-1.0zM171.2,14.81h1.0v4.4h-1.0zM171.2,20.53h1.0v6.87h-1.0zM171.2,29.73h1.0v5.93h-1.0zM171.2,37.06h1.0v3.71h-1.0zM171.2,42.17h1.0v2.83h-1.0zM181.5,7.45h0.8v5.04h-0.8zM181.5,14.1h0.8v5.23h-0.8zM181.5,20.87h0.8v3.04h-0.8zM181.5,25.94h0.8v5.61h-0.8zM181.5,33.37h0.8v5.2h-0.8zM181.5,40.6h0.8v6.93h-0.8zM181.5,49.84h0.8v5.87h-0.8zM181.5,57.31h0.8v4.27h-0.8zM181.5,63.21h0.8v6.89h-0.8zM181.5,71.69h0.8v4.54h-0.8zM181.5,77.84h0.8v3.57h-0.8zM181.5,83.91h0.8v3.02h-0.8zM181.5,88.85h0.8v6.71h-0.8zM181.5,96.93h0.8v5.44h-0.8zM181.5,103.94h0.8v3.96h-0.8zM181.5,109.2h0.8v3.46h-0.8zM181.5,114.93h0.8v6.14h-0.8zM189.3,7.45h0.9v3.2h-0.9zM189.3,12.69h0.9v4.3h-0.9zM189.3,18.96h0.9v5.2h-0.9zM189.3,25.63h0.9v6.89h-0.9zM189.3,33.51h0.9v5.98h-0.9zM189.3,41.78h0.9v5.04h-0.9zM189.3,48.71h0.9v6.98h-0.9zM189.3,57.04h0.9v5.52h-0.9zM189.3,64.67h0.9v4.52h-0.9zM189.3,71.25h0.9v4.57h-0.9zM189.3,77.62h0.9v5.45h-0.9zM189.3,85.09h0.9v4.29h-0.9zM189.3,91.32h0.9v5.17h-0.9zM189.3,97.82h0.9v5.45h-0.9zM189.3,104.67h0.9v6.63h-0.9zM189.3,113.02h0.9v5.89h-0.9zM189.3,120.69h0.9v1.81h-0.9zM176,7.45h0.8v3.57h-0.8zM176,13.41h0.8v5.11h-0.8zM176,20.31h0.8v5.11h-0.8zM176,27.64h0.8v3.95h-0.8zM176,32.85h0.8v6.29h-0.8zM176,40.83h0.8v5.56h-0.8zM176,48.63h0.8v6.58h-0.8zM176,57.51h0.8v3.17h-0.8zM176,62.26h0.8v6.33h-0.8zM176,70.81h0.8v3.49h-0.8zM176,75.54h0.8v4.01h-0.8zM176,80.7h0.8v4.43h-0.8zM176,87.33h0.8v5.09h-0.8zM176,94.09h0.8v3.35h-0.8zM176,99.04h0.8v6.99h-0.8zM176,108.07h0.8v4.8h-0.8zM176,114.58h0.8v6.19h-0.8zM191.6,7.45h0.9v3.6h-0.9zM191.6,13.07h0.9v4.47h-0.9zM191.6,19.32h0.9v3.95h-0.9zM191.6,24.83h0.9v4.36h-0.9zM191.6,30.76h0.9v3.07h-0.9zM191.6,35.13h0.9v5.28h-0.9zM191.6,41.5h0.9v3.71h-0.9zM191.6,47.29h0.9v4.1h-0.9zM191.6,52.87h0.9v3.97h-0.9zM191.6,59.09h0.9v3.37h-0.9zM191.6,64.41h0.9v6.44h-0.9zM191.6,72.15h0.9v4.69h-0.9zM191.6,79.03h0.9v5.47h-0.9zM191.6,86.06h0.9v3.18h-0.9zM191.6,90.9h0.9v4.47h-0.9zM191.6,97.44h0.9v4.18h-0.9zM191.6,103.23h0.9v5.59h-0.9zM191.6,111.04h0.9v4.41h-0.9zM191.6,117.03h0.9v5.31h-0.9zM193.6,7.45h0.8v3.77h-0.8zM193.6,13.67h0.8v5.85h-0.8zM193.6,21.08h0.8v5.66h-0.8zM193.6,28.24h0.8v3.28h-0.8zM193.6,33.65h0.8v4.52h-0.8zM193.6,39.96h0.8v4.99h-0.8zM193.6,47.3h0.8v6.03h-0.8zM193.6,54.36h0.8v5.37h-0.8zM193.6,61.43h0.8v4.85h-0.8zM193.6,68.54h0.8v4.66h-0.8zM193.6,74.91h0.8v6.56h-0.8zM193.6,83.13h0.8v4.97h-0.8zM193.6,89.86h0.8v6.3h-0.8zM193.6,98.17h0.8v5.96h-0.8zM193.6,105.73h0.8v3.16h-0.8zM193.6,110.91h0.8v5.22h-0.8zM193.6,118.28h0.8v4.22h-0.8z" fill="#ffffff" fill-opacity="0.85"/><path clip-path="url(#c0)" stroke="#008000" stroke-width="1.4" fill="none" d="M167,25V26.39M167,28.61V29.49M167,30.98V35.48M167,37.45V38.29M167,40.37V44.79M167.8,25V28.94M167.8,30.76V32.03M167.8,34.43V39.06M167.8,41.33V42.25M167.8,43.98V45"/><path clip-path="url(#c1)" stroke="#008000" stroke-width="1.4" fill="none" d="M209.19,7.45V11.95M209.19,13.98V15.42M209.19,17.44V22.21M209.19,23.37V24.21M209.19,25.81V30.93M209.19,32.43V33.63M209.19,35.28V35.95M209.71,7.45V12.61M209.71,14.23V15.07M209.71,16.38V21.98M209.71,23.41V24.66M209.71,25.98V30.8M209.71,32.74V33.77M209.71,35.59V39.43M210.66,7.45V10.62M210.66,12.1V13.6M210.66,14.57V19.87M210.66,21.61V22.44M210.66,24.47V28.68M210.66,30.36V31.3M210.66,33.4V39.08M210.66,41.02V42.22M210.66,44V45.72M211.64,7.45V12.28M211.64,13.37V14.9M211.64,16.07V20.37M211.64,21.4V22.82M211.64,24.96V30.2M211.64,31.96V32.97M211.64,35.04V41.1M211.64,42.2V43.05M211.64,44.85V48.98M211.64,50.96V51.19M212.55,7.45V7.75M212.55,9.38V10.3M212.55,12.39V17.36M212.55,19.35V20.28M212.55,22.21V29.16M212.55,30.56V31.39M212.55,32.78V38.71M212.55,39.9V41.13M212.55,42.16V47.55M212.55,49.4V50.54M212.55,52.32V55.77M213.87,7.45V13.24M213.87,15.44V16.99M213.87,18.57V23.45M213.87,24.8V26.2M213.87,27.74V34.53M213.87,35.55V36.74M213.87,38.77V44.56M213.87,46.16V47.03M213.87,48.11V52.93M213.87,54.99V56.02M214.63,8.75V15.58M214.63,17.34V18.18M214.63,19.51V24.86M214.63,26.08V27.47M214.63,28.61V34.97M214.63,36.26V37.11M214.63,38.74V43.03M214.63,44.64V46.07M214.63,47.75V53.13M214.63,54.08V54.27M215.56,8.32V9.41M215.56,10.79V16.78M215.56,17.89V18.83M215.56,20.95V25.95M215.56,27.94V29.44M215.56,30.97V35.41M215.56,36.44V37.94M215.56,38.99V44.48M215.56,46.08V46.97M215.56,48.48V52.16M216.45,7.45V8.5M216.45,9.65V10.78M216.45,11.94V16.32M216.45,17.53V19.03M216.45,20.58V27.26M216.45,28.18V29.73M216.45,31.26V37.64M216.45,39.28V40.63M216.45,41.83V48.08M216.45,49.18V50.11"/><path clip-path="url(#c1)" stroke="#008000" stroke-width="1.4" fill="none" d="M214.94,20V25.06M214.94,26.39V27.66M214.94,29.76V35.89M214.94,36.98V37.98M214.94,39.82V46.77M214.94,47.82V49.12M214.94,51.09V56M216.11,21.19V22M216.11,24.32V29.55M216.11,31.12V31.99M216.11,33.33V39.54M216.11,41.49V42.41M216.11,43.89V48.31M216.11,49.59V50.56M216.11,52.03V56M217.08,20.8V22.23M217.08,24.5V30.75M217.08,32.64V33.6M217.08,35.48V42.01M217.08,44.12V44.99M217.08,46.99V52.04M217.08,53.27V54.84M218.53,20.6V22.15M218.53,24.42V30.65M218.53,32.82V34.26M218.53,36.09V41.39M218.53,43.55V44.97M218.53,47.19V52.09M218.53,54.44V55.66"/><path clip-path="url(#c1)" stroke="#008000" stroke-width="1.3" fill="none" d="M219.77,12V16.5M219.77,18.02V18.98M219.77,20.82V25.53M219.77,27.42V28.95M219.77,31.11V37M221.48,12V12.11M221.48,14.27V15.82M221.48,18.18V23.39M221.48,24.72V26.04M221.48,28.41V33.43M221.48,35.46V36.93M222.57,12V17.43M222.57,18.65V19.54M222.57,21.88V27.14M222.57,29.18V30.35M222.57,32.02V36.66"/><path clip-path="url(#c1)" stroke="#008000" stroke-width="1.3" fill="none" d="M213.6,56V56.24M213.6,58.12V62.52M213.6,64.56V65.89M213.6,68.3V71.54M213.6,73.82V74.65M213.6,77.08V80.44M213.6,82.32V83.88M213.6,85.84V89.29M213.6,91.78V93.07M213.6,95.57V99.35M213.6,101.45V103.02M213.6,105.12V110M214.6,57.38V62.27M214.6,64.33V65.77M214.6,67.63V71.33M214.6,73.03V74.27M214.6,76.74V80.76M214.6,82.74V84.28M214.6,86.78V91.11M214.6,92.78V94.08M214.6,96.13V101.04M214.6,103.01V104.33M214.6,106.57V110"/><path clip-path="url(#c1)" stroke="#008000" stroke-width="1.45" fill="none" d="M334.91,99.25V104.49M334.91,106.93V107.84M334.91,109.83V114.84M334.91,116.01V117.13M334.91,119.35V122.5M336.14,90.51V91.48M336.14,94.05V99.32M336.14,101.63V102.97M336.14,104.64V111.01M336.14,113.18V114.53M336.14,116.04V119.61M336.14,121.57V122.5M337,86.38V87.09M337,88.96V90.47M337,91.81V97.39M337,98.75V99.8M337,100.98V105.02M337,106.7V108.27M337,110.81V114.47M337,116.03V117.59M337,118.98V122.5M338.02,83.07V86.11M338.02,87.8V88.91M338.02,91.45V95.39M338.02,96.79V98.32M338.02,100.1V106.03M338.02,108.08V109.5M338.02,111.08V114.61M338.02,116.84V118.02M338.02,119.96V122.5M339.49,78.3V80.36M339.49,82.84V84.06M339.49,85.6V90.8M339.49,92.29V93.71M339.49,94.87V100.76M339.49,102.71V103.8M339.49,106.31V110.23M339.49,111.7V112.56M339.49,114.48V120.12M339.49,122.23V122.5M340.03,76.51V79.7M340.03,81.77V83.34M340.03,85.39V90.81M340.03,93.07V94.19M340.03,96.7V102.3M340.03,103.91V105.03M340.03,107.33V111.56M340.03,112.94V114.43M340.03,116.33V121.16M341.6,71.41V76.17M341.6,78.54V79.88M341.6,81.84V86.26M341.6,88.22V89.24M341.6,91.6V97.36M341.6,99.72V100.64M341.6,102.75V108.39M341.6,110.24V111.76M341.6,114.21V119.81M341.6,122.14V122.5M342.61,67.28V71.69M342.61,73.85V75.14M342.61,76.65V79.89M342.61,81.89V83.35M342.61,84.86V88.61M342.61,90.04V90.92M342.61,93.03V99.44M342.61,101.75V102.84M342.61,104.98V108.24M342.61,110.6V111.66M342.61,112.76V117.96M342.61,119.27V120.29M342.61,121.48V122.5M343.63,64.88V70.08M343.63,71.69V72.76M343.63,74.71V78.47M343.63,80.76V81.73M343.63,84.09V89.92M343.63,91.82V92.65M343.63,94.92V98.02M343.63,99.87V101.01M343.63,102.21V107.41M343.63,109.6V110.87M343.63,112.57V117.36M343.63,119.34V120.32M344.67,59.88V60.94M344.67,63.52V66.77M344.67,68.59V69.49M344.67,71.27V76.66M344.67,78.83V79.99M344.67,81.6V85.27M344.67,86.97V88M344.67,89.39V94.96M344.67,96.84V97.99M344.67,99.39V104.85M344.67,106.24V107.26M344.67,109.2V114.65M344.67,117.21V118.61M344.67,121.13V122.5M345.95,51.95V57.47M345.95,59.52V60.53M345.95,62.16V65.74M345.95,67.79V69.38M345.95,70.94V74.09M345.95,75.45V76.54M345.95,78.99V84.8M345.95,86.59V87.47M345.95,88.73V92.27M345.95,94.53V95.71M345.95,98.3V104.49M345.95,106.78V107.96M345.95,110.29V113.74M345.95,115V116.26M345.95,118.12V121.85M347.13,38.95V44.96M347.13,47.12V48.68M347.13,51.25V55.78M347.13,57.98V59.09M347.13,61.4V67.35M347.13,68.65V69.46M347.13,70.88V75.93M347.13,77.6V78.4M347.13,80.75V86.5M347.13,88.3V89.13M347.13,91.57V96.43M347.13,97.64V98.7M347.13,100.74V106.84M347.13,108.66V109.97M347.13,111.38V115.23M347.13,117.69V118.8M347.13,120.06V122.5M348.14,16.22V19.22M348.14,21.2V22.51M348.14,24.67V29.21M348.14,30.41V31.79M348.14,32.97V37.61M348.14,39.31V40.65M348.14,42.82V46.66M348.14,48.74V50.09M348.14,51.9V55.39M348.14,57.86V59.14M348.14,60.33V64.17M348.14,66.75V67.73M348.14,69.42V75.18M348.14,77.51V78.82M348.14,81.03V84.17M348.14,85.41V86.99M348.14,89.29V92.42M348.14,93.6V94.59M348.14,97.09V100.85M348.14,102.96V104.51M348.14,106.56V112.78M348.14,114.28V115.2M348.14,116.33V121.98M349.25,8V8.53M349.25,9.87V14.66M349.25,15.92V17.35M349.25,19.79V25.99M349.25,27.1V28.58M349.25,30.51V36.39M349.25,38.24V39.54M349.25,41.53V47.33M349.25,48.54V49.39M349.25,51.3V55.32M349.25,57.02V57.82M349.25,60.04V63.12M349.25,65.47V66.92M349.25,68.71V72.13M349.25,74.21V75.17M349.25,76.92V80.3M349.25,82.87V84.11M349.25,85.73V89.06M349.25,91.26V92.74M349.25,95.11V98.47M349.25,100.12V101.16M349.25,103.4V106.92M349.25,108.93V110.51M349.25,112.77V115.79M349.25,117V117.89M349.25,120.03V122.5M349.92,8V8.78M349.92,10.8V12.12M349.92,14.59V20.16M349.92,22.45V23.98M349.92,26.34V31.84M349.92,32.99V34.34M349.92,36.71V41.22M349.92,43.64V44.58M349.92,47.09V51.64M349.92,53.8V54.8M349.92,56.35V60.57M349.92,62.16V63.03M349.92,64.8V71.23M349.92,73.31V74.86M349.92,77.1V83.03M349.92,85.62V87.02M349.92,88.54V92.41M349.92,94.13V94.94M349.92,96.39V102.49M349.92,104.97V106.04M349.92,108.29V114.01M349.92,116.44V117.88M349.92,119.77V122.5M351.2,8V10.69M351.2,12.34V13.57M351.2,16.11V19.68M351.2,21.57V22.89M351.2,24.8V31.08M351.2,32.8V34.33M351.2,36.46V42.85M351.2,44.08V45.05M351.2,46.58V52.76M351.2,53.88V54.88M351.2,57.06V63.52M351.2,64.89V66.04M351.2,68.17V73.58M351.2,75.8V77.21M351.2,78.68V82.58M351.2,83.72V85.07M351.2,86.49V90.4M351.2,92.94V94.26M351.2,96.24V101.54M351.2,103.54V104.89M351.2,106.45V109.67M351.2,110.87V111.68M351.2,113.33V116.82M351.2,118.09V119.29M351.2,121.84V122.5"/><path clip-path="url(#c2)" stroke="#008000" stroke-width="1.55" fill="none" d="M365.26,7.45V7.71M365.26,9.1V9.91M365.26,11.17V18.79M365.26,20.01V21.34M365.26,23.16V29.81M365.26,31.06V31.98M365.26,33.11V41.04M365.26,42.58V43.9M365.26,45.7V50.59M365.26,51.68V52.49M365.26,54.69V59.21M365.26,61.55V62.65M365.26,64.66V69.21M365.26,71.31V72.32M365.26,73.83V79.92M365.26,81.08V82.08M365.26,84.19V89.33M365.26,90.86V92.28M365.26,93.59V98.36M365.26,99.67V100.78M365.26,102.29V108.86M365.26,110.52V112.01M365.26,113.08V119.74M365.26,121.91V122.5M365.96,7.45V8.41M365.96,10.05V11.42M365.96,12.55V17.02M365.96,18.69V19.63M365.96,20.96V26.72M365.96,27.88V28.74M365.96,30.24V36.12M365.96,38.43V39.67M365.96,40.77V45.66M365.96,47.71V48.96M365.96,51.17V59.02M365.96,61.23V62.11M365.96,64.43V70.53M365.96,71.87V72.81M365.96,75.02V79.87M365.96,80.98V81.99M365.96,84.29V90.13M365.96,92.16V93.02M365.96,94.65V99.92M365.96,101.21V102.54M365.96,104.04V108.52M365.96,110.9V112.09M365.96,113.34V117.38M365.96,119.3V120.51M365.96,121.54V122.5M366.96,7.45V8.09M366.96,9.79V11.07M366.96,12.98V17.56M366.96,19.69V21.25M366.96,23.28V30.71M366.96,32.23V33.75M366.96,35V39.91M366.96,41.75V43.27M366.96,44.38V49.25M366.96,50.3V51.45M366.96,52.65V57.42M366.96,59.46V60.73M366.96,63.05V68.65M366.96,70.6V71.41M366.96,73.74V78.67M366.96,80.34V81.55M366.96,83.88V89.85M366.96,92.24V93.53M366.96,94.84V102.17M366.96,103.45V105.05M366.96,106.69V111.6M366.96,113.94V115M366.96,116.57V121.94M368.13,7.45V12.76M368.13,13.99V15.45M368.13,16.45V22.88M368.13,24.24V25.41M368.13,27.19V34.04M368.13,35.23V36.22M368.13,37.39V45.23M368.13,46.44V47.35M368.13,49.08V55.41M368.13,57.65V58.5M368.13,59.82V64.49M368.13,66.31V67.48M368.13,69.05V76.6M368.13,78.53V80.02M368.13,82.36V87.43M368.13,89.75V90.88M368.13,91.95V99.61M368.13,100.75V101.57M368.13,102.97V108.13M368.13,110.48V111.98M368.13,113.57V119.69M368.13,121.87V122.5M369.25,7.45V7.81M369.25,9.16V10.48M369.25,12.3V19.51M369.25,21.77V23.33M369.25,24.6V28.91M369.25,31.17V32.42M369.25,33.68V40.44M369.25,41.8V42.79M369.25,44.3V50.4M369.25,52.35V53.21M369.25,55.24V61.74M369.25,63.4V64.74M369.25,66.86V70.9M369.25,72.56V73.91M369.25,75.9V82.49M369.25,83.74V85.31M369.25,87.41V92.34M369.25,93.94V95.51M369.25,96.8V102.43M369.25,104.78V106.3M369.25,107.63V114.57M369.25,116.07V117.4M369.25,119.48V122.5M370.46,7.45V10.79M370.46,11.84V12.75M370.46,14.32V20.01M370.46,21.11V22.38M370.46,24.7V31.01M370.46,32.5V33.87M370.46,35.48V40.18M370.46,41.86V42.67M370.46,44.62V49.26M370.46,50.78V52.35M370.46,54.42V61.76M370.46,63.66V64.97M370.46,66.96V74.82M370.46,76.1V77.51M370.46,78.93V83.95M370.46,86.11V87.39M370.46,89.58V97.08M370.46,98.9V99.86M370.46,100.88V107.02M370.46,109.04V110.05M370.46,111.15V115.17M370.46,116.41V117.77M370.46,118.77V122.5M371.37,7.45V9.71M371.37,10.74V11.63M371.37,13.94V21.82M371.37,23.02V24.09M371.37,25.82V31.1M371.37,32.69V33.87M371.37,35.23V39.45M371.37,40.57V41.5M371.37,42.63V49.13M371.37,51.1V52.11M371.37,54.22V61.14M371.37,62.61V63.81M371.37,65.07V72.79M371.37,74.57V75.41M371.37,76.63V83.4M371.37,84.94V86.31M371.37,87.63V94.82M371.37,96.94V97.82M371.37,99.64V104.4M371.37,106.4V107.84M371.37,109.95V114.87M371.37,116V117.33M371.37,119.12V122.5M372.59,9.11V10.1M372.59,11.46V17.16M372.59,18.9V20.28M372.59,21.33V28.22M372.59,29.53V30.57M372.59,32.46V39.23M372.59,41.09V42.61M372.59,43.9V49.14M372.59,51.07V52.08M372.59,53.3V58.2M372.59,60.28V61.74M372.59,63.75V71.58M372.59,73.69V74.74M372.59,76.18V83.07M372.59,84.15V85.43M372.59,86.56V90.75M372.59,92.47V93.39M372.59,95.7V103.21M372.59,104.85V105.81M372.59,106.98V113.01M372.59,114.74V115.83M372.59,117.83V122.5M373.26,7.45V10.88M373.26,12.42V13.61M373.26,14.96V21.64M373.26,22.95V24M373.26,25.67V32.52M373.26,34.6V35.69M373.26,37.32V45.03M373.26,47.34V48.63M373.26,49.78V55.6M373.26,57.49V58.52M373.26,59.57V67.49M373.26,69.77V70.67M373.26,72.32V78.8M373.26,80.22V81.08M373.26,83.13V90.21M373.26,91.82V92.69M373.26,94.24V98.62M373.26,100.97V101.81M373.26,103.21V110.28M373.26,111.47V112.36M373.26,113.46V118.11M373.26,119.86V121.32M374.81,7.45V13.12M374.81,14.72V15.79M374.81,16.96V21.93M374.81,24.29V25.18M374.81,26.55V33.51M374.81,35.76V37.28M374.81,38.94V46.77M374.81,48.62V49.65M374.81,51.3V58.16M374.81,60.19V61.09M374.81,62.36V70.2M374.81,71.35V72.8M374.81,74.27V79.26M374.81,80.62V81.8M374.81,84.18V88.78M374.81,90.97V92.03M374.81,93.27V100.25M374.81,101.73V102.68M374.81,104.27V111.55M374.81,113.76V115.02M374.81,116.04V122.5M375.51,7.45V8.06M375.51,9.52V11M375.51,13.15V18.21M375.51,19.72V20.82M375.51,22.32V27.83M375.51,28.98V29.96M375.51,32.24V37.88M375.51,39.77V41.28M375.51,43.34V48.32M375.51,50.6V52.05M375.51,54.43V61.35M375.51,63.4V64.85M375.51,66.21V72.83M375.51,74.36V75.84M375.51,77.02V83.18M375.51,84.65V86.11M375.51,87.59V94.97M375.51,97.15V98.66M375.51,99.85V107.6M375.51,109.65V110.99M375.51,112.9V112.9M376.85,7.45V8.89M376.85,10.37V11.79M376.85,13.89V21.37M376.85,22.67V23.74M376.85,25.09V29.49M376.85,30.95V31.77M376.85,33.88V38.79M376.85,39.89V40.74M376.85,42.78V47.58M376.85,49.22V50.34M376.85,52.47V60.28M376.85,61.72V63.02M376.85,65.28V71.16M376.85,73.42V74.8M376.85,76.24V83.74M376.85,85.54V86.27M377.42,8.57V9.7M377.42,11.93V18.6M377.42,19.89V20.98M377.42,22.49V30.32M377.42,32.29V33.19M377.42,35.47V39.61M377.42,41.44V42.59M377.42,44.59V50.31M377.42,51.44V52.66M377.42,54.81V61.96M377.42,63.46V64.44M377.42,66.48V72.04M378.95,7.45V8.35M378.95,9.96V11.07M378.95,13.06V20.78M378.95,22.06V23.1M378.95,24.56V31.49M378.95,32.75V33.99M378.95,35.69V42.37M378.95,43.57V45.13M378.95,47.53V50.7M379.64,7.45V13.62M379.64,15.4V16.8M379.64,19.02V24.47M379.64,26.76V27.73M379.64,28.76V34.77M379.64,37.03V38.55M379.64,40.88V45.76M381.06,7.45V7.55M381.06,9.43V10.87M381.06,12.46V18.87M381.06,20.24V21.26M381.06,22.85V28.9M381.06,30.55V31.43M381.06,32.44V35.5"/><path clip-path="url(#c2)" stroke="#008000" stroke-width="1.3" fill="none" d="M377.65,30V32.6M377.65,35.94V36.9M377.65,39.7V44M377.65,47.07V48.44M377.65,51.45V54.63M377.65,57.86V59.4M377.65,61.29V66.15M377.65,68.7V69.57M377.65,71.49V75.98M377.65,78.93V79.17M379.34,32.26V33.67M379.34,35.89V38.88M379.34,40.96V42.08M379.34,44.94V48.19M379.34,50.27V51.24M379.34,53.19V56.17M379.34,58.51V59.71M379.34,61.82V65.52M379.34,68.07V69.65M381.35,31.58V34.5M381.35,36.42V37.78M381.35,41.23V44.74M381.35,47.14V48.28M381.35,50.68V54.9M381.35,57.37V58.29M383.51,31.18V32.56M383.51,34.96V39.04M383.51,42.4V43.53"/><path clip-path="url(#c2)" stroke="#008000" stroke-width="1.3" fill="none" d="M383.2,38V38.72M383.2,41.32V42.71M383.2,45.65V47.94M383.2,50.17V51.66M383.2,54.41V57"/><path clip-path="url(#c2)" stroke="#008000" stroke-width="1.5" fill="none" d="M489.1,8.45V13.56M489.1,15V16.13M489.1,17.27V22.62M489.1,24.34V25.78M489.1,26.8V32.77M489.1,34.15V35.35M489.1,36.64V44.32M489.1,45.6V46.83M489.1,48.57V55.49M489.1,56.87V57.94M489.1,59.25V64"/><path clip-path="url(#c2)" stroke="#008000" stroke-width="1.3" fill="none" d="M498.86,8.45V10.24M498.86,13.15V14.08M498.86,16.79V19.85M498.86,21.76V22.61M498.86,25.5V28.94M498.86,30.9V31.75M498.86,33.77V38.97M498.86,41.72V43.25M500.62,8.45V9.81M500.62,11.55V13.09M500.62,15.39V18.97M500.62,21.76V23.25M500.62,25.47V28.75M500.62,31.74V33.15M500.62,35.7V41.63M500.62,43.29V44.14M500.62,45.94V46M502.33,8.61V9.55M502.33,12.12V17.14M502.33,20.29V21.38M502.33,24.55V28.85M502.33,31.08V32.08M502.33,34.05V39.98M502.33,43.17V44.53M504.02,8.45V10.47M504.02,12.63V14.02M504.02,15.71V20.3M504.02,22.99V23.82M504.02,26.12V31.5M504.02,34.02V35.18M504.02,38.19V42.99M504.02,45.13V46M506.05,9.82V10.73M506.05,12.61V16.76M506.05,19.47V20.27M506.05,23.15V28.51M506.05,30.93V31.74M506.05,34.62V38.86M506.05,41.53V42.78M506.05,45.55V46M507.52,9.18V10.23M507.52,12.43V16.24M507.52,19.29V20.72M507.52,23.58V29.04M507.52,32.23V33.58M507.52,35.69V40.96M507.52,42.98V44.27"/><path clip-path="url(#c2)" stroke="#008000" stroke-width="1.4" fill="none" d="M486.71,53.55V57.87M486.71,60.44V61.44M486.71,64.01V68.96M486.71,70.51V71.71M486.71,74.26V77.9M486.71,80.35V81.37M486.71,83.37V89.13M486.71,92.04V93.63M486.71,95.72V96.55M487.94,50.17V51.29M487.94,54.21V58.63M487.94,60.22V61.62M487.94,63.25V68.29M487.94,69.77V71.36M487.94,73.63V78.85M487.94,80.46V81.77M487.94,83.77V87.52M487.94,90.22V91.05M487.94,93.21V96.47M489.27,48.93V54.12M489.27,56.06V57.61M489.27,59.31V62.72M489.27,65.42V66.32M489.27,68.01V72.51M489.27,74.45V75.38M489.27,78.27V82.69M489.27,85.35V86.35M489.27,89.21V92.87M489.27,95.73V97.02M489.27,99.97V102.07M491.1,45.37V46.67M491.1,48.78V49.66M491.1,52.52V57.94M491.1,60.43V61.82M491.1,63.6V67.99M491.1,70.7V72.27M491.1,75.15V78.63M491.1,81.12V82.37M491.1,84.42V87.92M491.1,89.54V90.71M491.1,92.9V96.71M491.1,98.7V99.94M491.1,102.56V106.06M492.05,44.83V46.36M492.05,47.99V52.74M492.05,55.68V56.79M492.05,59.07V63.01M492.05,64.45V65.42M492.05,67.02V70.87M492.05,73.28V74.53M492.05,77.44V82.5M492.05,84.48V86.04M492.05,88.45V93.08M492.05,95.86V97.2M492.05,99.18V103.99M492.05,105.87V107.45M494.01,43.71V48.03M494.01,49.62V51.09M494.01,53.56V58.61M494.01,61.49V63.09M494.01,65.57V70.71M494.01,72.12V72.95M494.01,75.04V80.94M494.01,82.85V84.1M494.01,85.51V89.76M494.01,92.61V93.88M494.01,96.6V99.64M494.01,101.36V102.3M494.01,105.03V108.34M494.01,111.23V112.24M494.01,115.05V117.71M495.35,45.52V51.47M495.35,53.04V54.44M495.35,56.27V59.72M495.35,61.7V63.03M495.35,65.95V71.94M495.35,74.93V76.22M495.35,78.67V82.15M495.35,84.72V85.96M495.35,87.93V93.63M495.35,95.44V96.35M495.35,98.01V101.45M495.35,103.8V105.24M495.35,106.89V111.4M495.35,113.72V114.97M495.35,117.03V121.66M496.44,42.32V46.12M496.44,47.9V49.31M496.44,51.09V56.57M496.44,58.35V59.23M496.44,61.39V65.55M496.44,67.49V68.9M496.44,70.66V75.67M496.44,78.4V79.57M496.44,81.77V87.54M496.44,89.91V90.85M496.44,92.36V95.61M496.44,97.54V98.41M496.44,100.85V105.12M496.44,107.02V108.22M496.44,111.12V114.86M496.44,116.5V117.55M496.44,119.47V122.5M498.26,42V42.07M498.26,43.54V44.44M498.26,47.19V52.14M498.26,53.79V55.09M498.26,56.58V61.1M498.26,63.04V63.92M498.26,66.51V71.66M498.26,73.88V74.81M498.26,77.28V81.58M498.26,84.04V84.91M498.26,87.76V90.77M498.26,92.52V93.64M498.26,95.36V98.62M498.26,101.12V102.72M498.26,104.66V108.45M498.26,110.93V111.9M498.26,113.95V119.01M498.26,121.1V122.03M499.59,42V43.63M499.59,46.5V47.38M499.59,49.58V54.05M499.59,55.76V57.09M499.59,59.29V64.71M499.59,66.58V68.13M499.59,70.83V75.25M499.59,76.88V78.07M499.59,79.67V84.73M499.59,87.24V88.5M499.59,91.47V94.6M499.59,97.15V98.59M499.59,100.17V104.13M499.59,105.62V106.89M499.59,109.44V113.49M499.59,116V117.09M499.59,119.63V122.5M501.24,43.05V44.43M501.24,47.22V52.13M501.24,53.78V55.27M501.24,57.82V61.17M501.24,63.18V64.51M501.24,65.92V69.05M501.24,71.01V72.51M501.24,75.51V79.46M501.24,82.31V83.74M501.24,86.53V91.29M501.24,94.24V95.56M501.24,98.48V103.17M501.24,104.89V106.1M501.24,108.28V112.29M501.24,114.29V115.49M501.24,117.83V121.5M502.5,42V42.49M502.5,44.56V45.89M502.5,47.59V52.18M502.5,54.02V55.44M502.5,57.97V63.31M502.5,65.54V66.54M502.5,69.42V73.95M502.5,75.95V76.98M502.5,79.02V84.15M502.5,86.86V88.05M502.5,90.62V94.26M502.5,96.38V97.46M502.5,99.35V103.43M502.5,106.04V107.43M502.5,109.16V112.86M502.5,115.52V116.84M502.5,119.32V122.5M503.86,42V43M503.86,44.98V45.8M503.86,48.74V53.32M503.86,55.79V57.36M503.86,60.05V63.74M503.86,65.68V66.56M503.86,69.24V74.45M503.86,76.63V77.72M503.86,79.55V84.02M503.86,86.56V88.07M503.86,90.83V96.43M503.86,98.54V99.67M503.86,101.58V107.5M503.86,109.19V110.12M503.86,111.97V117.73M503.86,120.5V121.56M505.61,42V42.28M505.61,44.28V47.64M505.61,50.48V51.64M505.61,53.67V58.46M505.61,60.27V61.08M505.61,63.11V67.24M505.61,68.66V69.76M505.61,72.38V76.38M505.61,78.86V80.16M505.61,81.86V84.93M505.61,87.4V88.69M505.61,90.56V94.16M505.61,96.93V98.46M505.61,100.23V104.99M505.61,107.31V108.37M505.61,109.83V113.8M505.61,116.23V117.51M505.61,119.73V122.5M506.55,42V43.76M506.55,45.74V47.26M506.55,48.85V54.81M506.55,56.59V58.08M506.55,59.87V64.63M506.55,66.63V67.46M506.55,70.14V75.57M506.55,77.4V78.82M506.55,80.99V86.95M506.55,88.43V89.54M506.55,91.3V96.18M506.55,98.82V100.3M506.55,102.57V106.73M506.55,109.41V110.3M506.55,112.11V117.37M506.55,119.48V121.07"/><path clip-path="url(#c0)" d="M119.3,56.4C119.92,56.4 122.38,56.4 123,56.4" stroke="#008000" stroke-width="1.55" fill="none" stroke-dasharray="5.8,2.5,1.2,2.5"/><path clip-path="url(#c0)" d="M124.5,57C125.1,57.75 126.65,55.07 128.1,61.5C129.55,67.93 131.42,95.48 133.2,95.6C134.98,95.72 136.98,58.4 138.8,62.2C140.62,66 142.5,117.05 144.1,118.4C145.7,119.75 146.42,73.67 148.4,70.3C150.38,66.93 153.9,96.08 156,98.2C158.1,100.32 159.67,87.37 161,83C162.33,78.63 163.5,73.83 164,72" stroke="#008000" stroke-width="1.55" fill="none" stroke-dasharray="5.8,2.5,1.2,2.5"/><path clip-path="url(#c1)" d="M224.5,26C225.5,24.6 228.5,18 230.5,17.6C232.5,17.2 233.75,22.08 236.5,23.6C239.25,25.12 243.73,25.3 247,26.7C250.27,28.1 252.58,29.35 256.1,32C259.62,34.65 264.6,39.33 268.1,42.6C271.6,45.87 274.58,48.1 277.1,51.6C279.62,55.1 281.18,60.33 283.2,63.6C285.22,66.87 286.2,68.68 289.2,71.2C292.2,73.72 297.7,76.7 301.2,78.7C304.7,80.7 307.95,82.85 310.2,83.2C312.45,83.55 312.18,80.05 314.7,80.8C317.22,81.55 322.28,86.05 325.3,87.7C328.32,89.35 331.02,89.48 332.8,90.7C334.58,91.92 335.47,94.28 336,95" stroke="#008000" stroke-width="1.55" fill="none" stroke-dasharray="5.8,2.5,1.2,2.5"/><path clip-path="url(#c2)" d="M384,32C384.75,30.4 386.5,23.9 388.5,22.4C390.5,20.9 393.48,22.48 396,23C398.52,23.52 400.58,24 403.6,25.5C406.62,27 410.85,29.65 414.1,32C417.35,34.35 420.35,36.08 423.1,39.6C425.85,43.12 428.58,50.1 430.6,53.1C432.62,56.1 433.18,56.85 435.2,57.6C437.22,58.35 440.45,56.08 442.7,57.6C444.95,59.12 446.45,63.68 448.7,66.7C450.95,69.72 453.45,73.45 456.2,75.7C458.95,77.95 462.2,78.85 465.2,80.2C468.2,81.55 471.43,81.8 474.2,83.8C476.97,85.8 480,91.17 481.8,92.2C483.6,93.23 484.47,90.37 485,90" stroke="#008000" stroke-width="1.55" fill="none" stroke-dasharray="5.8,2.5,1.2,2.5"/><path clip-path="url(#c3)" d="M521.5,109.1C526.25,106.25 541.53,97.37 550,92C558.47,86.63 565.43,82.33 572.3,76.9C579.17,71.47 585.92,64.28 591.2,59.4C596.48,54.52 598.7,52.18 604,47.6C609.3,43.02 613.23,38.53 623,31.9C632.77,25.27 656,11.82 662.6,7.8" stroke="#008000" stroke-width="1.55" fill="none" stroke-dasharray="5.8,2.5,1.2,2.5"/><path clip-path="url(#c0)" d="M51.2,122.5 L51.6,122.5 L52,122.5 L52.4,122.5 L52.8,122.5 L53.2,122.5 L53.6,122.5 L54,122.5 L54.4,122.5 L54.8,122.5 L55.2,122.5 L55.6,122.5 L56,122.5 L56.4,122.5 L56.8,122.5 L57.2,122.5 L57.6,122.5 L58,122.5 L58.4,122.5 L58.8,122.5 L59.2,122.5 L59.6,122.5 L60,122.5 L60.4,122.5 L60.8,122.5 L61.2,122.5 L61.6,122.5 L62,122.5 L62.4,122.5 L62.8,122.5 L63.2,122.5 L63.6,122.5 L64,122.5 L64.4,122.5 L64.8,122.5 L65.2,122.5 L65.6,122.5 L66,122.5 L66.4,122.5 L66.8,122.5 L67.2,122.5 L67.6,122.5 L68,122.5 L68.4,122.5 L68.8,122.5 L69.2,122.5 L69.6,122.5 L70,122.5 L70.4,122.5 L70.8,122.5 L71.2,122.5 L71.6,122.5 L72,122.5 L72.4,122.5 L72.8,122.5 L73.2,122.5 L73.6,122.5 L74,122.5 L74.4,122.5 L74.8,122.5 L75.2,122.5 L75.6,122.5 L76,122.5 L76.4,122.5 L76.8,122.5 L77.2,122.5 L77.6,122.5 L78,122.5 L78.4,122.5 L78.8,122.5 L79.2,122.5 L79.6,122.5 L80,122.5 L80.4,122.5 L80.8,122.5 L81.2,122.5 L81.6,122.5 L82,122.5 L82.4,122.5 L82.8,122.5 L83.2,122.5 L83.6,122.5 L84,122.5 L84.4,122.5 L84.8,122.5 L85.2,122.5 L85.6,122.5 L86,122.5 L86.4,122.5 L86.8,122.5 L87.2,122.5 L87.6,122.5 L88,122.5 L88.4,122.5 L88.8,122.5 L89.2,122.5 L89.6,122.5 L90,122.5 L90.4,122.5 L90.8,122.5 L91.2,122.5 L91.6,122.5 L92,122.5 L92.4,122.5 L92.8,122.5 L93.2,122.5 L93.6,122.5 L94,122.5 L94.4,122.5 L94.8,122.5 L95.2,122.5 L95.6,122.5 L96,122.5 L96.4,122.5 L96.8,122.5 L97.2,122.5 L97.6,122.5 L98,122.5 L98.4,122.5 L98.8,122.5 L99.2,122.5 L99.6,122.5 L100,122.49 L100.4,122.49 L100.8,122.49 L101.2,122.49 L101.6,122.49 L102,122.49 L102.4,122.48 L102.8,122.48 L103.2,122.48 L103.6,122.47 L104,122.47 L104.4,122.46 L104.8,122.45 L105.2,122.43 L105.6,122.41 L106,122.38 L106.4,122.33 L106.8,122.25 L107.2,122.14 L107.6,121.99 L108,121.79 L108.4,121.53 L108.8,121.22 L109.2,120.87 L109.6,120.5 L110,120.15 L110.4,119.83 L110.8,119.58 L111.2,119.39 L111.6,119.25 L112,119.15 L112.4,119.03 L112.8,118.84 L113.2,118.53 L113.6,118.04 L114,117.32 L114.4,116.32 L114.8,115 L115.2,113.3 L115.6,111.17 L116,108.57 L116.4,105.44 L116.8,101.73 L117.2,97.4 L117.6,92.43 L118,86.81 L118.4,80.57 L118.8,73.78 L119.2,66.54 L119.6,59.01 L120,51.38 L120.4,43.91 L120.8,36.86 L121.2,30.55 L121.6,25.25 L122,21.25 L122.4,18.76 L122.8,17.91 L123.2,18.76 L123.6,21.25 L124,25.25 L124.4,30.55 L124.8,36.86 L125.2,43.91 L125.6,51.38 L126,59.01 L126.4,66.54 L126.8,73.78 L127.2,80.57 L127.6,86.81 L128,92.43 L128.4,97.41 L128.8,101.74 L129.2,105.46 L129.6,108.61 L130,111.25 L130.4,113.42 L130.8,115.21 L131.2,116.65 L131.6,117.82 L132,118.75 L132.4,119.5 L132.8,120.09 L133.2,120.56 L133.6,120.93 L134,121.23 L134.4,121.46 L134.8,121.65 L135.2,121.81 L135.6,121.93 L136,122.03 L136.4,122.11 L136.8,122.18 L137.2,122.24 L137.6,122.28 L138,122.32 L138.4,122.35 L138.8,122.37 L139.2,122.4 L139.6,122.41 L140,122.43 L140.4,122.44 L140.8,122.45 L141.2,122.46 L141.6,122.47 L142,122.47 L142.4,122.48 L142.8,122.48 L143.2,122.48 L143.6,122.49 L144,122.49 L144.4,122.49 L144.8,122.49 L145.2,122.49 L145.6,122.49 L146,122.5 L146.4,122.5 L146.8,122.5 L147.2,122.5 L147.6,122.5 L148,122.5 L148.4,122.5 L148.8,122.5 L149.2,122.5 L149.6,122.5 L150,122.5 L150.4,122.5 L150.8,122.5 L151.2,122.5 L151.6,122.5 L152,122.5 L152.4,122.5 L152.8,122.5 L153.2,122.5 L153.6,122.5 L154,122.5 L154.4,122.5 L154.8,122.5 L155.2,122.5 L155.6,122.5 L156,122.5 L156.4,122.5 L156.8,122.5 L157.2,122.5 L157.6,122.5 L158,122.5 L158.4,122.5 L158.8,122.5 L159.2,122.5 L159.6,122.5 L160,122.5 L160.4,122.5 L160.8,122.5 L161.2,122.5 L161.6,122.5 L162,122.5 L162.4,122.5 L162.8,122.5 L163.2,122.5 L163.6,122.5 L164,122.5 L164.4,122.5 L164.8,122.5 L165.2,122.5 L165.6,122.5 L166,122.5 L166.4,122.5 L166.8,122.5 L167.2,122.5 L167.6,122.5 L168,122.5 L168.4,122.5 L168.8,122.5 L169.2,122.5 L169.6,122.5 L170,122.5 L170.4,122.5 L170.8,122.5 L171.2,122.5 L171.6,122.5 L172,122.5 L172.4,122.5 L172.8,122.5 L173.2,122.5 L173.6,122.5 L174,122.5 L174.4,122.5 L174.8,122.5 L175.2,122.5 L175.6,122.5 L176,122.5 L176.4,122.5 L176.8,122.5 L177.2,122.5 L177.6,122.5 L178,122.5 L178.4,122.5 L178.8,122.5 L179.2,122.5 L179.6,122.5 L180,122.5 L180.4,122.5 L180.8,122.5 L181.2,122.5 L181.6,122.5 L182,122.5 L182.4,122.5 L182.8,122.5 L183.2,122.5 L183.6,122.5 L184,122.5 L184.4,122.5 L184.8,122.5 L185.2,122.5 L185.6,122.5 L186,122.5 L186.4,122.5 L186.8,122.5 L187.2,122.5 L187.6,122.5 L188,122.5 L188.4,122.5 L188.8,122.5 L189.2,122.5 L189.6,122.5 L190,122.5 L190.4,122.5 L190.8,122.5 L191.2,122.5 L191.6,122.5 L192,122.5 L192.4,122.5 L192.8,122.5 L193.2,122.5 L193.6,122.5 L194,122.5 L194.4,122.5 L194.8,122.5" stroke="#2020b0" stroke-width="2.0" fill="none"/><path clip-path="url(#c0)" d="M51.2,122.5 L51.6,122.5 L52,122.5 L52.4,122.5 L52.8,122.5 L53.2,122.5 L53.6,122.5 L54,122.5 L54.4,122.5 L54.8,122.5 L55.2,122.5 L55.6,122.5 L56,122.5 L56.4,122.5 L56.8,122.5 L57.2,122.5 L57.6,122.5 L58,122.5 L58.4,122.5 L58.8,122.5 L59.2,122.5 L59.6,122.5 L60,122.5 L60.4,122.5 L60.8,122.5 L61.2,122.5 L61.6,122.5 L62,122.5 L62.4,122.5 L62.8,122.5 L63.2,122.5 L63.6,122.5 L64,122.5 L64.4,122.5 L64.8,122.5 L65.2,122.5 L65.6,122.5 L66,122.5 L66.4,122.5 L66.8,122.5 L67.2,122.5 L67.6,122.5 L68,122.5 L68.4,122.5 L68.8,122.5 L69.2,122.5 L69.6,122.5 L70,122.5 L70.4,122.5 L70.8,122.5 L71.2,122.5 L71.6,122.5 L72,122.5 L72.4,122.5 L72.8,122.5 L73.2,122.5 L73.6,122.5 L74,122.5 L74.4,122.5 L74.8,122.5 L75.2,122.5 L75.6,122.5 L76,122.5 L76.4,122.5 L76.8,122.5 L77.2,122.5 L77.6,122.5 L78,122.5 L78.4,122.5 L78.8,122.5 L79.2,122.5 L79.6,122.5 L80,122.5 L80.4,122.5 L80.8,122.5 L81.2,122.5 L81.6,122.5 L82,122.5 L82.4,122.5 L82.8,122.5 L83.2,122.5 L83.6,122.5 L84,122.5 L84.4,122.5 L84.8,122.5 L85.2,122.5 L85.6,122.5 L86,122.5 L86.4,122.5 L86.8,122.5 L87.2,122.5 L87.6,122.5 L88,122.5 L88.4,122.5 L88.8,122.5 L89.2,122.5 L89.6,122.5 L90,122.5 L90.4,122.5 L90.8,122.5 L91.2,122.5 L91.6,122.5 L92,122.5 L92.4,122.5 L92.8,122.5 L93.2,122.5 L93.6,122.5 L94,122.5 L94.4,122.5 L94.8,122.5 L95.2,122.5 L95.6,122.5 L96,122.5 L96.4,122.5 L96.8,122.5 L97.2,122.5 L97.6,122.5 L98,122.5 L98.4,122.5 L98.8,122.5 L99.2,122.5 L99.6,122.5 L100,122.49 L100.4,122.49 L100.8,122.49 L101.2,122.49 L101.6,122.49 L102,122.49 L102.4,122.48 L102.8,122.48 L103.2,122.48 L103.6,122.47 L104,122.47 L104.4,122.46 L104.8,122.45 L105.2,122.43 L105.6,122.41 L106,122.38 L106.4,122.33 L106.8,122.25 L107.2,122.14 L107.6,121.99 L108,121.79 L108.4,121.53 L108.8,121.22 L109.2,120.87 L109.6,120.5 L110,120.15 L110.4,119.83 L110.8,119.58 L111.2,119.39 L111.6,119.25 L112,119.15 L112.4,119.03 L112.8,118.84 L113.2,118.53 L113.6,118.04 L114,117.32 L114.4,116.32 L114.8,115 L115.2,113.3 L115.6,111.17 L116,108.57 L116.4,105.44 L116.8,101.73 L117.2,97.4 L117.6,92.43 L118,86.81 L118.4,80.57 L118.8,73.78 L119.2,66.54 L119.6,59.01 L120,51.38 L120.4,43.91 L120.8,36.86 L121.2,30.55 L121.6,25.25 L122,21.25 L122.4,18.76 L122.8,17.91 L123.2,18.76 L123.6,21.25 L124,25.25 L124.4,30.55 L124.8,36.86 L125.2,43.91 L125.6,51.38 L126,59.01 L126.4,66.54 L126.8,73.78 L127.2,80.57 L127.6,86.81 L128,92.43 L128.4,97.41 L128.8,101.74 L129.2,105.46 L129.6,108.61 L130,111.25 L130.4,113.42 L130.8,115.21 L131.2,116.65 L131.6,117.82 L132,118.75 L132.4,119.5 L132.8,120.09 L133.2,120.56 L133.6,120.93 L134,121.23 L134.4,121.46 L134.8,121.65 L135.2,121.81 L135.6,121.93 L136,122.03 L136.4,122.11 L136.8,122.18 L137.2,122.24 L137.6,122.28 L138,122.32 L138.4,122.35 L138.8,122.37 L139.2,122.4 L139.6,122.41 L140,122.43 L140.4,122.44 L140.8,122.45 L141.2,122.46 L141.6,122.47 L142,122.47 L142.4,122.48 L142.8,122.48 L143.2,122.48 L143.6,122.49 L144,122.49 L144.4,122.49 L144.8,122.49 L145.2,122.49 L145.6,122.49 L146,122.5 L146.4,122.5 L146.8,122.5 L147.2,122.5 L147.6,122.5 L148,122.5 L148.4,122.5 L148.8,122.5 L149.2,122.5 L149.6,122.5 L150,122.5 L150.4,122.5 L150.8,122.5 L151.2,122.5 L151.6,122.5 L152,122.5 L152.4,122.5 L152.8,122.5 L153.2,122.5 L153.6,122.5 L154,122.5 L154.4,122.5 L154.8,122.5 L155.2,122.5 L155.6,122.5 L156,122.5 L156.4,122.5 L156.8,122.5 L157.2,122.5 L157.6,122.5 L158,122.5 L158.4,122.5 L158.8,122.5 L159.2,122.5 L159.6,122.5 L160,122.5 L160.4,122.5 L160.8,122.5 L161.2,122.5 L161.6,122.5 L162,122.5 L162.4,122.5 L162.8,122.5 L163.2,122.5 L163.6,122.5 L164,122.5 L164.4,122.5 L164.8,122.5 L165.2,122.5 L165.6,122.5 L166,122.5 L166.4,122.5 L166.8,122.5 L167.2,122.5 L167.6,122.5 L168,122.5 L168.4,122.5 L168.8,122.5 L169.2,122.5 L169.6,122.5 L170,122.5 L170.4,122.5 L170.8,122.5 L171.2,122.5 L171.6,122.5 L172,122.5 L172.4,122.5 L172.8,122.5 L173.2,122.5 L173.6,122.5 L174,122.5 L174.4,122.5 L174.8,122.5 L175.2,122.5 L175.6,122.5 L176,122.5 L176.4,122.5 L176.8,122.5 L177.2,122.5 L177.6,122.5 L178,122.5 L178.4,122.5 L178.8,122.5 L179.2,122.5 L179.6,122.5 L180,122.5 L180.4,122.5 L180.8,122.5 L181.2,122.5 L181.6,122.5 L182,122.5 L182.4,122.5 L182.8,122.5 L183.2,122.5 L183.6,122.5 L184,122.5 L184.4,122.5 L184.8,122.5 L185.2,122.5 L185.6,122.5 L186,122.5 L186.4,122.5 L186.8,122.5 L187.2,122.5 L187.6,122.5 L188,122.5 L188.4,122.5 L188.8,122.5 L189.2,122.5 L189.6,122.5 L190,122.5 L190.4,122.5 L190.8,122.5 L191.2,122.5 L191.6,122.5 L192,122.5 L192.4,122.5 L192.8,122.5 L193.2,122.5 L193.6,122.5 L194,122.5 L194.4,122.5 L194.8,122.5" stroke="#ff1010" stroke-width="1.4" fill="none" stroke-dasharray="3.4,1.6" transform="translate(-0.35,0)"/><path clip-path="url(#c1)" d="M208.5,122.5 L208.9,122.5 L209.3,122.5 L209.7,122.5 L210.1,122.5 L210.5,122.5 L210.9,122.5 L211.3,122.5 L211.7,122.5 L212.1,122.5 L212.5,122.5 L212.9,122.5 L213.3,122.5 L213.7,122.5 L214.1,122.5 L214.5,122.5 L214.9,122.5 L215.3,122.5 L215.7,122.5 L216.1,122.5 L216.5,122.5 L216.9,122.5 L217.3,122.5 L217.7,122.5 L218.1,122.5 L218.5,122.5 L218.9,122.5 L219.3,122.5 L219.7,122.5 L220.1,122.5 L220.5,122.5 L220.9,122.5 L221.3,122.5 L221.7,122.5 L222.1,122.5 L222.5,122.5 L222.9,122.5 L223.3,122.5 L223.7,122.5 L224.1,122.5 L224.5,122.5 L224.9,122.5 L225.3,122.5 L225.7,122.5 L226.1,122.5 L226.5,122.5 L226.9,122.5 L227.3,122.5 L227.7,122.5 L228.1,122.5 L228.5,122.5 L228.9,122.5 L229.3,122.49 L229.7,122.49 L230.1,122.49 L230.5,122.49 L230.9,122.49 L231.3,122.49 L231.7,122.49 L232.1,122.49 L232.5,122.49 L232.9,122.49 L233.3,122.49 L233.7,122.49 L234.1,122.48 L234.5,122.48 L234.9,122.48 L235.3,122.48 L235.7,122.48 L236.1,122.47 L236.5,122.47 L236.9,122.47 L237.3,122.47 L237.7,122.46 L238.1,122.46 L238.5,122.46 L238.9,122.45 L239.3,122.45 L239.7,122.44 L240.1,122.44 L240.5,122.43 L240.9,122.43 L241.3,122.42 L241.7,122.41 L242.1,122.4 L242.5,122.39 L242.9,122.38 L243.3,122.37 L243.7,122.36 L244.1,122.35 L244.5,122.34 L244.9,122.32 L245.3,122.3 L245.7,122.28 L246.1,122.26 L246.5,122.24 L246.9,122.22 L247.3,122.19 L247.7,122.16 L248.1,122.13 L248.5,122.1 L248.9,122.06 L249.3,122.02 L249.7,121.97 L250.1,121.92 L250.5,121.87 L250.9,121.81 L251.3,121.74 L251.7,121.67 L252.1,121.59 L252.5,121.51 L252.9,121.42 L253.3,121.32 L253.7,121.21 L254.1,121.08 L254.5,120.95 L254.9,120.81 L255.3,120.65 L255.7,120.48 L256.1,120.29 L256.5,120.09 L256.9,119.86 L257.3,119.62 L257.7,119.35 L258.1,119.06 L258.5,118.74 L258.9,118.39 L259.3,118.02 L259.7,117.61 L260.1,117.16 L260.5,116.67 L260.9,116.14 L261.3,115.56 L261.7,114.93 L262.1,114.25 L262.5,113.51 L262.9,112.7 L263.3,111.83 L263.7,110.88 L264.1,109.86 L264.5,108.75 L264.9,107.56 L265.3,106.27 L265.7,104.87 L266.1,103.38 L266.5,101.77 L266.9,100.04 L267.3,98.19 L267.7,96.21 L268.1,94.1 L268.5,91.85 L268.9,89.47 L269.3,86.94 L269.7,84.28 L270.1,81.48 L270.5,78.53 L270.9,75.46 L271.3,72.27 L271.7,68.96 L272.1,65.55 L272.5,62.06 L272.9,58.5 L273.3,54.91 L273.7,51.29 L274.1,47.69 L274.5,44.13 L274.9,40.65 L275.3,37.28 L275.7,34.07 L276.1,31.05 L276.5,28.26 L276.9,25.74 L277.3,23.52 L277.7,21.63 L278.1,20.11 L278.5,18.97 L278.9,18.24 L279.3,17.92 L279.7,18.03 L280.1,18.55 L280.5,19.49 L280.9,20.82 L281.3,22.53 L281.7,24.59 L282.1,26.96 L282.5,29.63 L282.9,32.54 L283.3,35.66 L283.7,38.95 L284.1,42.38 L284.5,45.9 L284.9,49.49 L285.3,53.1 L285.7,56.71 L286.1,60.29 L286.5,63.82 L286.9,67.27 L287.3,70.63 L287.7,73.88 L288.1,77.02 L288.5,80.02 L288.9,82.89 L289.3,85.63 L289.7,88.22 L290.1,90.68 L290.5,92.99 L290.9,95.17 L291.3,97.22 L291.7,99.13 L292.1,100.92 L292.5,102.59 L292.9,104.14 L293.3,105.58 L293.7,106.92 L294.1,108.17 L294.5,109.32 L294.9,110.38 L295.3,111.37 L295.7,112.28 L296.1,113.11 L296.5,113.89 L296.9,114.6 L297.3,115.25 L297.7,115.85 L298.1,116.41 L298.5,116.92 L298.9,117.39 L299.3,117.82 L299.7,118.21 L300.1,118.57 L300.5,118.9 L300.9,119.21 L301.3,119.49 L301.7,119.74 L302.1,119.98 L302.5,120.19 L302.9,120.39 L303.3,120.57 L303.7,120.73 L304.1,120.88 L304.5,121.02 L304.9,121.15 L305.3,121.26 L305.7,121.37 L306.1,121.46 L306.5,121.55 L306.9,121.63 L307.3,121.71 L307.7,121.78 L308.1,121.84 L308.5,121.89 L308.9,121.95 L309.3,121.99 L309.7,122.04 L310.1,122.08 L310.5,122.11 L310.9,122.15 L311.3,122.18 L311.7,122.2 L312.1,122.23 L312.5,122.25 L312.9,122.27 L313.3,122.29 L313.7,122.31 L314.1,122.33 L314.5,122.34 L314.9,122.36 L315.3,122.37 L315.7,122.38 L316.1,122.39 L316.5,122.4 L316.9,122.41 L317.3,122.42 L317.7,122.42 L318.1,122.43 L318.5,122.44 L318.9,122.44 L319.3,122.45 L319.7,122.45 L320.1,122.46 L320.5,122.46 L320.9,122.46 L321.3,122.47 L321.7,122.47 L322.1,122.47 L322.5,122.47 L322.9,122.48 L323.3,122.48 L323.7,122.48 L324.1,122.48 L324.5,122.48 L324.9,122.48 L325.3,122.49 L325.7,122.49 L326.1,122.49 L326.5,122.49 L326.9,122.49 L327.3,122.49 L327.7,122.49 L328.1,122.49 L328.5,122.49 L328.9,122.49 L329.3,122.49 L329.7,122.49 L330.1,122.5 L330.5,122.5 L330.9,122.5 L331.3,122.5 L331.7,122.5 L332.1,122.5 L332.5,122.5 L332.9,122.5 L333.3,122.5 L333.7,122.5 L334.1,122.5 L334.5,122.5 L334.9,122.5 L335.3,122.5 L335.7,122.5 L336.1,122.5 L336.5,122.5 L336.9,122.5 L337.3,122.5 L337.7,122.5 L338.1,122.5 L338.5,122.5 L338.9,122.5 L339.3,122.5 L339.7,122.5 L340.1,122.5 L340.5,122.5 L340.9,122.5 L341.3,122.5 L341.7,122.5 L342.1,122.5 L342.5,122.5 L342.9,122.5 L343.3,122.5 L343.7,122.5 L344.1,122.5 L344.5,122.5 L344.9,122.5 L345.3,122.5 L345.7,122.5 L346.1,122.5 L346.5,122.5 L346.9,122.5 L347.3,122.5 L347.7,122.5 L348.1,122.5 L348.5,122.5 L348.9,122.5 L349.3,122.5 L349.7,122.5 L350.1,122.5 L350.5,122.5 L350.9,122.5 L351.3,122.5 L351.7,122.5 L352.1,122.5 L352.5,122.5" stroke="#2020b0" stroke-width="2.0" fill="none"/><path clip-path="url(#c1)" d="M208.5,122.5 L208.9,122.5 L209.3,122.5 L209.7,122.5 L210.1,122.5 L210.5,122.5 L210.9,122.5 L211.3,122.5 L211.7,122.5 L212.1,122.5 L212.5,122.5 L212.9,122.5 L213.3,122.5 L213.7,122.5 L214.1,122.5 L214.5,122.5 L214.9,122.5 L215.3,122.5 L215.7,122.5 L216.1,122.5 L216.5,122.5 L216.9,122.5 L217.3,122.5 L217.7,122.5 L218.1,122.5 L218.5,122.5 L218.9,122.5 L219.3,122.5 L219.7,122.5 L220.1,122.5 L220.5,122.5 L220.9,122.5 L221.3,122.5 L221.7,122.5 L222.1,122.5 L222.5,122.5 L222.9,122.5 L223.3,122.5 L223.7,122.5 L224.1,122.5 L224.5,122.5 L224.9,122.5 L225.3,122.5 L225.7,122.5 L226.1,122.5 L226.5,122.5 L226.9,122.5 L227.3,122.5 L227.7,122.5 L228.1,122.5 L228.5,122.5 L228.9,122.5 L229.3,122.49 L229.7,122.49 L230.1,122.49 L230.5,122.49 L230.9,122.49 L231.3,122.49 L231.7,122.49 L232.1,122.49 L232.5,122.49 L232.9,122.49 L233.3,122.49 L233.7,122.49 L234.1,122.48 L234.5,122.48 L234.9,122.48 L235.3,122.48 L235.7,122.48 L236.1,122.47 L236.5,122.47 L236.9,122.47 L237.3,122.47 L237.7,122.46 L238.1,122.46 L238.5,122.46 L238.9,122.45 L239.3,122.45 L239.7,122.44 L240.1,122.44 L240.5,122.43 L240.9,122.43 L241.3,122.42 L241.7,122.41 L242.1,122.4 L242.5,122.39 L242.9,122.38 L243.3,122.37 L243.7,122.36 L244.1,122.35 L244.5,122.34 L244.9,122.32 L245.3,122.3 L245.7,122.28 L246.1,122.26 L246.5,122.24 L246.9,122.22 L247.3,122.19 L247.7,122.16 L248.1,122.13 L248.5,122.1 L248.9,122.06 L249.3,122.02 L249.7,121.97 L250.1,121.92 L250.5,121.87 L250.9,121.81 L251.3,121.74 L251.7,121.67 L252.1,121.59 L252.5,121.51 L252.9,121.42 L253.3,121.32 L253.7,121.21 L254.1,121.08 L254.5,120.95 L254.9,120.81 L255.3,120.65 L255.7,120.48 L256.1,120.29 L256.5,120.09 L256.9,119.86 L257.3,119.62 L257.7,119.35 L258.1,119.06 L258.5,118.74 L258.9,118.39 L259.3,118.02 L259.7,117.61 L260.1,117.16 L260.5,116.67 L260.9,116.14 L261.3,115.56 L261.7,114.93 L262.1,114.25 L262.5,113.51 L262.9,112.7 L263.3,111.83 L263.7,110.88 L264.1,109.86 L264.5,108.75 L264.9,107.56 L265.3,106.27 L265.7,104.87 L266.1,103.38 L266.5,101.77 L266.9,100.04 L267.3,98.19 L267.7,96.21 L268.1,94.1 L268.5,91.85 L268.9,89.47 L269.3,86.94 L269.7,84.28 L270.1,81.48 L270.5,78.53 L270.9,75.46 L271.3,72.27 L271.7,68.96 L272.1,65.55 L272.5,62.06 L272.9,58.5 L273.3,54.91 L273.7,51.29 L274.1,47.69 L274.5,44.13 L274.9,40.65 L275.3,37.28 L275.7,34.07 L276.1,31.05 L276.5,28.26 L276.9,25.74 L277.3,23.52 L277.7,21.63 L278.1,20.11 L278.5,18.97 L278.9,18.24 L279.3,17.92 L279.7,18.03 L280.1,18.55 L280.5,19.49 L280.9,20.82 L281.3,22.53 L281.7,24.59 L282.1,26.96 L282.5,29.63 L282.9,32.54 L283.3,35.66 L283.7,38.95 L284.1,42.38 L284.5,45.9 L284.9,49.49 L285.3,53.1 L285.7,56.71 L286.1,60.29 L286.5,63.82 L286.9,67.27 L287.3,70.63 L287.7,73.88 L288.1,77.02 L288.5,80.02 L288.9,82.89 L289.3,85.63 L289.7,88.22 L290.1,90.68 L290.5,92.99 L290.9,95.17 L291.3,97.22 L291.7,99.13 L292.1,100.92 L292.5,102.59 L292.9,104.14 L293.3,105.58 L293.7,106.92 L294.1,108.17 L294.5,109.32 L294.9,110.38 L295.3,111.37 L295.7,112.28 L296.1,113.11 L296.5,113.89 L296.9,114.6 L297.3,115.25 L297.7,115.85 L298.1,116.41 L298.5,116.92 L298.9,117.39 L299.3,117.82 L299.7,118.21 L300.1,118.57 L300.5,118.9 L300.9,119.21 L301.3,119.49 L301.7,119.74 L302.1,119.98 L302.5,120.19 L302.9,120.39 L303.3,120.57 L303.7,120.73 L304.1,120.88 L304.5,121.02 L304.9,121.15 L305.3,121.26 L305.7,121.37 L306.1,121.46 L306.5,121.55 L306.9,121.63 L307.3,121.71 L307.7,121.78 L308.1,121.84 L308.5,121.89 L308.9,121.95 L309.3,121.99 L309.7,122.04 L310.1,122.08 L310.5,122.11 L310.9,122.15 L311.3,122.18 L311.7,122.2 L312.1,122.23 L312.5,122.25 L312.9,122.27 L313.3,122.29 L313.7,122.31 L314.1,122.33 L314.5,122.34 L314.9,122.36 L315.3,122.37 L315.7,122.38 L316.1,122.39 L316.5,122.4 L316.9,122.41 L317.3,122.42 L317.7,122.42 L318.1,122.43 L318.5,122.44 L318.9,122.44 L319.3,122.45 L319.7,122.45 L320.1,122.46 L320.5,122.46 L320.9,122.46 L321.3,122.47 L321.7,122.47 L322.1,122.47 L322.5,122.47 L322.9,122.48 L323.3,122.48 L323.7,122.48 L324.1,122.48 L324.5,122.48 L324.9,122.48 L325.3,122.49 L325.7,122.49 L326.1,122.49 L326.5,122.49 L326.9,122.49 L327.3,122.49 L327.7,122.49 L328.1,122.49 L328.5,122.49 L328.9,122.49 L329.3,122.49 L329.7,122.49 L330.1,122.5 L330.5,122.5 L330.9,122.5 L331.3,122.5 L331.7,122.5 L332.1,122.5 L332.5,122.5 L332.9,122.5 L333.3,122.5 L333.7,122.5 L334.1,122.5 L334.5,122.5 L334.9,122.5 L335.3,122.5 L335.7,122.5 L336.1,122.5 L336.5,122.5 L336.9,122.5 L337.3,122.5 L337.7,122.5 L338.1,122.5 L338.5,122.5 L338.9,122.5 L339.3,122.5 L339.7,122.5 L340.1,122.5 L340.5,122.5 L340.9,122.5 L341.3,122.5 L341.7,122.5 L342.1,122.5 L342.5,122.5 L342.9,122.5 L343.3,122.5 L343.7,122.5 L344.1,122.5 L344.5,122.5 L344.9,122.5 L345.3,122.5 L345.7,122.5 L346.1,122.5 L346.5,122.5 L346.9,122.5 L347.3,122.5 L347.7,122.5 L348.1,122.5 L348.5,122.5 L348.9,122.5 L349.3,122.5 L349.7,122.5 L350.1,122.5 L350.5,122.5 L350.9,122.5 L351.3,122.5 L351.7,122.5 L352.1,122.5 L352.5,122.5" stroke="#ff1010" stroke-width="1.4" fill="none" stroke-dasharray="3.4,1.6" transform="translate(-0.35,0)"/><path clip-path="url(#c2)" d="M364.8,122.5 L365.2,122.5 L365.6,122.5 L366,122.5 L366.4,122.5 L366.8,122.5 L367.2,122.5 L367.6,122.5 L368,122.5 L368.4,122.5 L368.8,122.5 L369.2,122.5 L369.6,122.5 L370,122.5 L370.4,122.5 L370.8,122.5 L371.2,122.5 L371.6,122.5 L372,122.5 L372.4,122.5 L372.8,122.5 L373.2,122.5 L373.6,122.5 L374,122.5 L374.4,122.5 L374.8,122.5 L375.2,122.5 L375.6,122.5 L376,122.5 L376.4,122.5 L376.8,122.5 L377.2,122.5 L377.6,122.5 L378,122.5 L378.4,122.5 L378.8,122.5 L379.2,122.5 L379.6,122.5 L380,122.5 L380.4,122.5 L380.8,122.5 L381.2,122.5 L381.6,122.5 L382,122.5 L382.4,122.5 L382.8,122.5 L383.2,122.5 L383.6,122.5 L384,122.5 L384.4,122.5 L384.8,122.5 L385.2,122.5 L385.6,122.5 L386,122.5 L386.4,122.5 L386.8,122.5 L387.2,122.5 L387.6,122.5 L388,122.5 L388.4,122.5 L388.8,122.5 L389.2,122.5 L389.6,122.5 L390,122.5 L390.4,122.5 L390.8,122.5 L391.2,122.5 L391.6,122.5 L392,122.5 L392.4,122.5 L392.8,122.5 L393.2,122.5 L393.6,122.5 L394,122.5 L394.4,122.5 L394.8,122.5 L395.2,122.5 L395.6,122.5 L396,122.49 L396.4,122.49 L396.8,122.49 L397.2,122.49 L397.6,122.49 L398,122.49 L398.4,122.49 L398.8,122.49 L399.2,122.49 L399.6,122.49 L400,122.49 L400.4,122.48 L400.8,122.48 L401.2,122.48 L401.6,122.48 L402,122.48 L402.4,122.47 L402.8,122.47 L403.2,122.47 L403.6,122.46 L404,122.46 L404.4,122.46 L404.8,122.45 L405.2,122.45 L405.6,122.44 L406,122.43 L406.4,122.43 L406.8,122.42 L407.2,122.41 L407.6,122.4 L408,122.39 L408.4,122.37 L408.8,122.36 L409.2,122.34 L409.6,122.33 L410,122.31 L410.4,122.29 L410.8,122.26 L411.2,122.24 L411.6,122.21 L412,122.18 L412.4,122.14 L412.8,122.1 L413.2,122.05 L413.6,122 L414,121.95 L414.4,121.88 L414.8,121.81 L415.2,121.73 L415.6,121.64 L416,121.53 L416.4,121.42 L416.8,121.28 L417.2,121.13 L417.6,120.96 L418,120.77 L418.4,120.55 L418.8,120.3 L419.2,120.02 L419.6,119.69 L420,119.32 L420.4,118.91 L420.8,118.43 L421.2,117.89 L421.6,117.28 L422,116.6 L422.4,115.82 L422.8,114.94 L423.2,113.96 L423.6,112.86 L424,111.63 L424.4,110.26 L424.8,108.74 L425.2,107.06 L425.6,105.21 L426,103.18 L426.4,100.96 L426.8,98.55 L427.2,95.94 L427.6,93.13 L428,90.11 L428.4,86.9 L428.8,83.49 L429.2,79.9 L429.6,76.14 L430,72.22 L430.4,68.17 L430.8,64.02 L431.2,59.79 L431.6,55.53 L432,51.27 L432.4,47.06 L432.8,42.94 L433.2,38.97 L433.6,35.2 L434,31.68 L434.4,28.47 L434.8,25.6 L435.2,23.14 L435.6,21.11 L436,19.56 L436.4,18.51 L436.8,17.98 L437.2,17.98 L437.6,18.51 L438,19.56 L438.4,21.11 L438.8,23.14 L439.2,25.6 L439.6,28.47 L440,31.68 L440.4,35.2 L440.8,38.97 L441.2,42.94 L441.6,47.06 L442,51.27 L442.4,55.53 L442.8,59.79 L443.2,64.02 L443.6,68.17 L444,72.22 L444.4,76.14 L444.8,79.9 L445.2,83.49 L445.6,86.9 L446,90.11 L446.4,93.13 L446.8,95.94 L447.2,98.55 L447.6,100.96 L448,103.18 L448.4,105.21 L448.8,107.06 L449.2,108.74 L449.6,110.26 L450,111.63 L450.4,112.86 L450.8,113.96 L451.2,114.94 L451.6,115.82 L452,116.6 L452.4,117.28 L452.8,117.89 L453.2,118.43 L453.6,118.91 L454,119.32 L454.4,119.69 L454.8,120.02 L455.2,120.3 L455.6,120.55 L456,120.77 L456.4,120.96 L456.8,121.13 L457.2,121.28 L457.6,121.42 L458,121.53 L458.4,121.64 L458.8,121.73 L459.2,121.81 L459.6,121.88 L460,121.95 L460.4,122 L460.8,122.05 L461.2,122.1 L461.6,122.14 L462,122.18 L462.4,122.21 L462.8,122.24 L463.2,122.26 L463.6,122.29 L464,122.31 L464.4,122.33 L464.8,122.34 L465.2,122.36 L465.6,122.37 L466,122.39 L466.4,122.4 L466.8,122.41 L467.2,122.42 L467.6,122.43 L468,122.43 L468.4,122.44 L468.8,122.45 L469.2,122.45 L469.6,122.46 L470,122.46 L470.4,122.46 L470.8,122.47 L471.2,122.47 L471.6,122.47 L472,122.48 L472.4,122.48 L472.8,122.48 L473.2,122.48 L473.6,122.48 L474,122.49 L474.4,122.49 L474.8,122.49 L475.2,122.49 L475.6,122.49 L476,122.49 L476.4,122.49 L476.8,122.49 L477.2,122.49 L477.6,122.49 L478,122.49 L478.4,122.5 L478.8,122.5 L479.2,122.5 L479.6,122.5 L480,122.5 L480.4,122.5 L480.8,122.5 L481.2,122.5 L481.6,122.5 L482,122.5 L482.4,122.5 L482.8,122.5 L483.2,122.5 L483.6,122.5 L484,122.5 L484.4,122.5 L484.8,122.5 L485.2,122.5 L485.6,122.5 L486,122.5 L486.4,122.5 L486.8,122.5 L487.2,122.5 L487.6,122.5 L488,122.5 L488.4,122.5 L488.8,122.5 L489.2,122.5 L489.6,122.5 L490,122.5 L490.4,122.5 L490.8,122.5 L491.2,122.5 L491.6,122.5 L492,122.5 L492.4,122.5 L492.8,122.5 L493.2,122.5 L493.6,122.5 L494,122.5 L494.4,122.5 L494.8,122.5 L495.2,122.5 L495.6,122.5 L496,122.5 L496.4,122.5 L496.8,122.5 L497.2,122.5 L497.6,122.5 L498,122.5 L498.4,122.5 L498.8,122.5 L499.2,122.5 L499.6,122.5 L500,122.5 L500.4,122.5 L500.8,122.5 L501.2,122.5 L501.6,122.5 L502,122.5 L502.4,122.5 L502.8,122.5 L503.2,122.5 L503.6,122.5 L504,122.5 L504.4,122.5 L504.8,122.5 L505.2,122.5 L505.6,122.5 L506,122.5 L506.4,122.5 L506.8,122.5 L507.2,122.5 L507.6,122.5 L508,122.5 L508.4,122.5" stroke="#2020b0" stroke-width="2.0" fill="none"/><path clip-path="url(#c2)" d="M364.8,122.5 L365.2,122.5 L365.6,122.5 L366,122.5 L366.4,122.5 L366.8,122.5 L367.2,122.5 L367.6,122.5 L368,122.5 L368.4,122.5 L368.8,122.5 L369.2,122.5 L369.6,122.5 L370,122.5 L370.4,122.5 L370.8,122.5 L371.2,122.5 L371.6,122.5 L372,122.5 L372.4,122.5 L372.8,122.5 L373.2,122.5 L373.6,122.5 L374,122.5 L374.4,122.5 L374.8,122.5 L375.2,122.5 L375.6,122.5 L376,122.5 L376.4,122.5 L376.8,122.5 L377.2,122.5 L377.6,122.5 L378,122.5 L378.4,122.5 L378.8,122.5 L379.2,122.5 L379.6,122.5 L380,122.5 L380.4,122.5 L380.8,122.5 L381.2,122.5 L381.6,122.5 L382,122.5 L382.4,122.5 L382.8,122.5 L383.2,122.5 L383.6,122.5 L384,122.5 L384.4,122.5 L384.8,122.5 L385.2,122.5 L385.6,122.5 L386,122.5 L386.4,122.5 L386.8,122.5 L387.2,122.5 L387.6,122.5 L388,122.5 L388.4,122.5 L388.8,122.5 L389.2,122.5 L389.6,122.5 L390,122.5 L390.4,122.5 L390.8,122.5 L391.2,122.5 L391.6,122.5 L392,122.5 L392.4,122.5 L392.8,122.5 L393.2,122.5 L393.6,122.5 L394,122.5 L394.4,122.5 L394.8,122.5 L395.2,122.5 L395.6,122.5 L396,122.49 L396.4,122.49 L396.8,122.49 L397.2,122.49 L397.6,122.49 L398,122.49 L398.4,122.49 L398.8,122.49 L399.2,122.49 L399.6,122.49 L400,122.49 L400.4,122.48 L400.8,122.48 L401.2,122.48 L401.6,122.48 L402,122.48 L402.4,122.47 L402.8,122.47 L403.2,122.47 L403.6,122.46 L404,122.46 L404.4,122.46 L404.8,122.45 L405.2,122.45 L405.6,122.44 L406,122.43 L406.4,122.43 L406.8,122.42 L407.2,122.41 L407.6,122.4 L408,122.39 L408.4,122.37 L408.8,122.36 L409.2,122.34 L409.6,122.33 L410,122.31 L410.4,122.29 L410.8,122.26 L411.2,122.24 L411.6,122.21 L412,122.18 L412.4,122.14 L412.8,122.1 L413.2,122.05 L413.6,122 L414,121.95 L414.4,121.88 L414.8,121.81 L415.2,121.73 L415.6,121.64 L416,121.53 L416.4,121.42 L416.8,121.28 L417.2,121.13 L417.6,120.96 L418,120.77 L418.4,120.55 L418.8,120.3 L419.2,120.02 L419.6,119.69 L420,119.32 L420.4,118.91 L420.8,118.43 L421.2,117.89 L421.6,117.28 L422,116.6 L422.4,115.82 L422.8,114.94 L423.2,113.96 L423.6,112.86 L424,111.63 L424.4,110.26 L424.8,108.74 L425.2,107.06 L425.6,105.21 L426,103.18 L426.4,100.96 L426.8,98.55 L427.2,95.94 L427.6,93.13 L428,90.11 L428.4,86.9 L428.8,83.49 L429.2,79.9 L429.6,76.14 L430,72.22 L430.4,68.17 L430.8,64.02 L431.2,59.79 L431.6,55.53 L432,51.27 L432.4,47.06 L432.8,42.94 L433.2,38.97 L433.6,35.2 L434,31.68 L434.4,28.47 L434.8,25.6 L435.2,23.14 L435.6,21.11 L436,19.56 L436.4,18.51 L436.8,17.98 L437.2,17.98 L437.6,18.51 L438,19.56 L438.4,21.11 L438.8,23.14 L439.2,25.6 L439.6,28.47 L440,31.68 L440.4,35.2 L440.8,38.97 L441.2,42.94 L441.6,47.06 L442,51.27 L442.4,55.53 L442.8,59.79 L443.2,64.02 L443.6,68.17 L444,72.22 L444.4,76.14 L444.8,79.9 L445.2,83.49 L445.6,86.9 L446,90.11 L446.4,93.13 L446.8,95.94 L447.2,98.55 L447.6,100.96 L448,103.18 L448.4,105.21 L448.8,107.06 L449.2,108.74 L449.6,110.26 L450,111.63 L450.4,112.86 L450.8,113.96 L451.2,114.94 L451.6,115.82 L452,116.6 L452.4,117.28 L452.8,117.89 L453.2,118.43 L453.6,118.91 L454,119.32 L454.4,119.69 L454.8,120.02 L455.2,120.3 L455.6,120.55 L456,120.77 L456.4,120.96 L456.8,121.13 L457.2,121.28 L457.6,121.42 L458,121.53 L458.4,121.64 L458.8,121.73 L459.2,121.81 L459.6,121.88 L460,121.95 L460.4,122 L460.8,122.05 L461.2,122.1 L461.6,122.14 L462,122.18 L462.4,122.21 L462.8,122.24 L463.2,122.26 L463.6,122.29 L464,122.31 L464.4,122.33 L464.8,122.34 L465.2,122.36 L465.6,122.37 L466,122.39 L466.4,122.4 L466.8,122.41 L467.2,122.42 L467.6,122.43 L468,122.43 L468.4,122.44 L468.8,122.45 L469.2,122.45 L469.6,122.46 L470,122.46 L470.4,122.46 L470.8,122.47 L471.2,122.47 L471.6,122.47 L472,122.48 L472.4,122.48 L472.8,122.48 L473.2,122.48 L473.6,122.48 L474,122.49 L474.4,122.49 L474.8,122.49 L475.2,122.49 L475.6,122.49 L476,122.49 L476.4,122.49 L476.8,122.49 L477.2,122.49 L477.6,122.49 L478,122.49 L478.4,122.5 L478.8,122.5 L479.2,122.5 L479.6,122.5 L480,122.5 L480.4,122.5 L480.8,122.5 L481.2,122.5 L481.6,122.5 L482,122.5 L482.4,122.5 L482.8,122.5 L483.2,122.5 L483.6,122.5 L484,122.5 L484.4,122.5 L484.8,122.5 L485.2,122.5 L485.6,122.5 L486,122.5 L486.4,122.5 L486.8,122.5 L487.2,122.5 L487.6,122.5 L488,122.5 L488.4,122.5 L488.8,122.5 L489.2,122.5 L489.6,122.5 L490,122.5 L490.4,122.5 L490.8,122.5 L491.2,122.5 L491.6,122.5 L492,122.5 L492.4,122.5 L492.8,122.5 L493.2,122.5 L493.6,122.5 L494,122.5 L494.4,122.5 L494.8,122.5 L495.2,122.5 L495.6,122.5 L496,122.5 L496.4,122.5 L496.8,122.5 L497.2,122.5 L497.6,122.5 L498,122.5 L498.4,122.5 L498.8,122.5 L499.2,122.5 L499.6,122.5 L500,122.5 L500.4,122.5 L500.8,122.5 L501.2,122.5 L501.6,122.5 L502,122.5 L502.4,122.5 L502.8,122.5 L503.2,122.5 L503.6,122.5 L504,122.5 L504.4,122.5 L504.8,122.5 L505.2,122.5 L505.6,122.5 L506,122.5 L506.4,122.5 L506.8,122.5 L507.2,122.5 L507.6,122.5 L508,122.5 L508.4,122.5" stroke="#ff1010" stroke-width="1.4" fill="none" stroke-dasharray="3.4,1.6" transform="translate(-0.35,0)"/><path clip-path="url(#c3)" d="M521.45,122.29 L521.85,122.29 L522.25,122.28 L522.65,122.27 L523.05,122.26 L523.45,122.25 L523.85,122.23 L524.25,122.22 L524.65,122.21 L525.05,122.2 L525.45,122.18 L525.85,122.17 L526.25,122.16 L526.65,122.14 L527.05,122.13 L527.45,122.11 L527.85,122.09 L528.25,122.07 L528.65,122.06 L529.05,122.04 L529.45,122.02 L529.85,121.99 L530.25,121.97 L530.65,121.95 L531.05,121.92 L531.45,121.9 L531.85,121.87 L532.25,121.85 L532.65,121.82 L533.05,121.79 L533.45,121.76 L533.85,121.72 L534.25,121.69 L534.65,121.65 L535.05,121.62 L535.45,121.58 L535.85,121.54 L536.25,121.5 L536.65,121.45 L537.05,121.41 L537.45,121.36 L537.85,121.31 L538.25,121.26 L538.65,121.2 L539.05,121.14 L539.45,121.09 L539.85,121.02 L540.25,120.96 L540.65,120.89 L541.05,120.82 L541.45,120.75 L541.85,120.67 L542.25,120.59 L542.65,120.51 L543.05,120.42 L543.45,120.33 L543.85,120.24 L544.25,120.14 L544.65,120.04 L545.05,119.93 L545.45,119.82 L545.85,119.7 L546.25,119.58 L546.65,119.46 L547.05,119.32 L547.45,119.19 L547.85,119.04 L548.25,118.89 L548.65,118.74 L549.05,118.58 L549.45,118.41 L549.85,118.23 L550.25,118.05 L550.65,117.86 L551.05,117.66 L551.45,117.45 L551.85,117.23 L552.25,117.01 L552.65,116.77 L553.05,116.53 L553.45,116.28 L553.85,116.01 L554.25,115.73 L554.65,115.45 L555.05,115.15 L555.45,114.84 L555.85,114.51 L556.25,114.18 L556.65,113.83 L557.05,113.46 L557.45,113.08 L557.85,112.69 L558.25,112.28 L558.65,111.85 L559.05,111.41 L559.45,110.95 L559.85,110.48 L560.25,109.98 L560.65,109.46 L561.05,108.93 L561.45,108.38 L561.85,107.8 L562.25,107.2 L562.65,106.58 L563.05,105.94 L563.45,105.28 L563.85,104.59 L564.25,103.87 L564.65,103.13 L565.05,102.37 L565.45,101.58 L565.85,100.76 L566.25,99.91 L566.65,99.04 L567.05,98.14 L567.45,97.2 L567.85,96.24 L568.25,95.25 L568.65,94.23 L569.05,93.17 L569.45,92.09 L569.85,90.97 L570.25,89.82 L570.65,88.64 L571.05,87.42 L571.45,86.18 L571.85,84.9 L572.25,83.59 L572.65,82.25 L573.05,80.87 L573.45,79.47 L573.85,78.03 L574.25,76.57 L574.65,75.07 L575.05,73.55 L575.45,72 L575.85,70.43 L576.25,68.83 L576.65,67.21 L577.05,65.56 L577.45,63.9 L577.85,62.22 L578.25,60.53 L578.65,58.82 L579.05,57.1 L579.45,55.38 L579.85,53.65 L580.25,51.92 L580.65,50.19 L581.05,48.46 L581.45,46.75 L581.85,45.04 L582.25,43.35 L582.65,41.69 L583.05,40.04 L583.45,38.42 L583.85,36.84 L584.25,35.29 L584.65,33.78 L585.05,32.32 L585.45,30.9 L585.85,29.54 L586.25,28.24 L586.65,27 L587.05,25.82 L587.45,24.71 L587.85,23.67 L588.25,22.72 L588.65,21.84 L589.05,21.04 L589.45,20.33 L589.85,19.7 L590.25,19.17 L590.65,18.73 L591.05,18.38 L591.45,18.13 L591.85,17.97 L592.25,17.91 L592.65,17.94 L593.05,18.05 L593.45,18.24 L593.85,18.5 L594.25,18.85 L594.65,19.27 L595.05,19.77 L595.45,20.34 L595.85,20.98 L596.25,21.7 L596.65,22.48 L597.05,23.33 L597.45,24.24 L597.85,25.22 L598.25,26.25 L598.65,27.34 L599.05,28.48 L599.45,29.67 L599.85,30.9 L600.25,32.19 L600.65,33.51 L601.05,34.87 L601.45,36.26 L601.85,37.69 L602.25,39.14 L602.65,40.62 L603.05,42.12 L603.45,43.63 L603.85,45.17 L604.25,46.71 L604.65,48.27 L605.05,49.83 L605.45,51.4 L605.85,52.97 L606.25,54.54 L606.65,56.11 L607.05,57.68 L607.45,59.23 L607.85,60.78 L608.25,62.31 L608.65,63.84 L609.05,65.35 L609.45,66.84 L609.85,68.32 L610.25,69.78 L610.65,71.22 L611.05,72.63 L611.45,74.03 L611.85,75.41 L612.25,76.76 L612.65,78.08 L613.05,79.39 L613.45,80.66 L613.85,81.91 L614.25,83.14 L614.65,84.34 L615.05,85.51 L615.45,86.66 L615.85,87.78 L616.25,88.88 L616.65,89.94 L617.05,90.99 L617.45,92 L617.85,92.99 L618.25,93.95 L618.65,94.89 L619.05,95.8 L619.45,96.69 L619.85,97.55 L620.25,98.39 L620.65,99.2 L621.05,99.99 L621.45,100.76 L621.85,101.5 L622.25,102.22 L622.65,102.92 L623.05,103.6 L623.45,104.26 L623.85,104.89 L624.25,105.51 L624.65,106.11 L625.05,106.69 L625.45,107.24 L625.85,107.79 L626.25,108.31 L626.65,108.82 L627.05,109.31 L627.45,109.78 L627.85,110.24 L628.25,110.68 L628.65,111.11 L629.05,111.52 L629.45,111.92 L629.85,112.3 L630.25,112.67 L630.65,113.03 L631.05,113.38 L631.45,113.71 L631.85,114.03 L632.25,114.35 L632.65,114.65 L633.05,114.93 L633.45,115.21 L633.85,115.48 L634.25,115.74 L634.65,115.99 L635.05,116.24 L635.45,116.47 L635.85,116.69 L636.25,116.91 L636.65,117.12 L637.05,117.32 L637.45,117.51 L637.85,117.7 L638.25,117.88 L638.65,118.05 L639.05,118.22 L639.45,118.38 L639.85,118.53 L640.25,118.68 L640.65,118.83 L641.05,118.96 L641.45,119.1 L641.85,119.22 L642.25,119.35 L642.65,119.47 L643.05,119.58 L643.45,119.69 L643.85,119.8 L644.25,119.9 L644.65,120 L645.05,120.09 L645.45,120.18 L645.85,120.27 L646.25,120.36 L646.65,120.44 L647.05,120.52 L647.45,120.59 L647.85,120.66 L648.25,120.73 L648.65,120.8 L649.05,120.86 L649.45,120.93 L649.85,120.99 L650.25,121.04 L650.65,121.1 L651.05,121.15 L651.45,121.2 L651.85,121.25 L652.25,121.3 L652.65,121.35 L653.05,121.39 L653.45,121.43 L653.85,121.47 L654.25,121.51 L654.65,121.55 L655.05,121.59 L655.45,121.62 L655.85,121.65 L656.25,121.69 L656.65,121.72 L657.05,121.75 L657.45,121.78 L657.85,121.8 L658.25,121.83 L658.65,121.86 L659.05,121.88 L659.45,121.9 L659.85,121.93 L660.25,121.95 L660.65,121.97 L661.05,121.99 L661.45,122.01 L661.85,122.03 L662.25,122.05 L662.65,122.06 L663.05,122.08 L663.45,122.1 L663.85,122.11 L664.25,122.13 L664.65,122.14" stroke="#2020b0" stroke-width="2.0" fill="none"/><path clip-path="url(#c3)" d="M521.45,122.29 L521.85,122.29 L522.25,122.28 L522.65,122.27 L523.05,122.26 L523.45,122.25 L523.85,122.23 L524.25,122.22 L524.65,122.21 L525.05,122.2 L525.45,122.18 L525.85,122.17 L526.25,122.16 L526.65,122.14 L527.05,122.13 L527.45,122.11 L527.85,122.09 L528.25,122.07 L528.65,122.06 L529.05,122.04 L529.45,122.02 L529.85,121.99 L530.25,121.97 L530.65,121.95 L531.05,121.92 L531.45,121.9 L531.85,121.87 L532.25,121.85 L532.65,121.82 L533.05,121.79 L533.45,121.76 L533.85,121.72 L534.25,121.69 L534.65,121.65 L535.05,121.62 L535.45,121.58 L535.85,121.54 L536.25,121.5 L536.65,121.45 L537.05,121.41 L537.45,121.36 L537.85,121.31 L538.25,121.26 L538.65,121.2 L539.05,121.14 L539.45,121.09 L539.85,121.02 L540.25,120.96 L540.65,120.89 L541.05,120.82 L541.45,120.75 L541.85,120.67 L542.25,120.59 L542.65,120.51 L543.05,120.42 L543.45,120.33 L543.85,120.24 L544.25,120.14 L544.65,120.04 L545.05,119.93 L545.45,119.82 L545.85,119.7 L546.25,119.58 L546.65,119.46 L547.05,119.32 L547.45,119.19 L547.85,119.04 L548.25,118.89 L548.65,118.74 L549.05,118.58 L549.45,118.41 L549.85,118.23 L550.25,118.05 L550.65,117.86 L551.05,117.66 L551.45,117.45 L551.85,117.23 L552.25,117.01 L552.65,116.77 L553.05,116.53 L553.45,116.28 L553.85,116.01 L554.25,115.73 L554.65,115.45 L555.05,115.15 L555.45,114.84 L555.85,114.51 L556.25,114.18 L556.65,113.83 L557.05,113.46 L557.45,113.08 L557.85,112.69 L558.25,112.28 L558.65,111.85 L559.05,111.41 L559.45,110.95 L559.85,110.48 L560.25,109.98 L560.65,109.46 L561.05,108.93 L561.45,108.38 L561.85,107.8 L562.25,107.2 L562.65,106.58 L563.05,105.94 L563.45,105.28 L563.85,104.59 L564.25,103.87 L564.65,103.13 L565.05,102.37 L565.45,101.58 L565.85,100.76 L566.25,99.91 L566.65,99.04 L567.05,98.14 L567.45,97.2 L567.85,96.24 L568.25,95.25 L568.65,94.23 L569.05,93.17 L569.45,92.09 L569.85,90.97 L570.25,89.82 L570.65,88.64 L571.05,87.42 L571.45,86.18 L571.85,84.9 L572.25,83.59 L572.65,82.25 L573.05,80.87 L573.45,79.47 L573.85,78.03 L574.25,76.57 L574.65,75.07 L575.05,73.55 L575.45,72 L575.85,70.43 L576.25,68.83 L576.65,67.21 L577.05,65.56 L577.45,63.9 L577.85,62.22 L578.25,60.53 L578.65,58.82 L579.05,57.1 L579.45,55.38 L579.85,53.65 L580.25,51.92 L580.65,50.19 L581.05,48.46 L581.45,46.75 L581.85,45.04 L582.25,43.35 L582.65,41.69 L583.05,40.04 L583.45,38.42 L583.85,36.84 L584.25,35.29 L584.65,33.78 L585.05,32.32 L585.45,30.9 L585.85,29.54 L586.25,28.24 L586.65,27 L587.05,25.82 L587.45,24.71 L587.85,23.67 L588.25,22.72 L588.65,21.84 L589.05,21.04 L589.45,20.33 L589.85,19.7 L590.25,19.17 L590.65,18.73 L591.05,18.38 L591.45,18.13 L591.85,17.97 L592.25,17.91 L592.65,17.94 L593.05,18.05 L593.45,18.24 L593.85,18.5 L594.25,18.85 L594.65,19.27 L595.05,19.77 L595.45,20.34 L595.85,20.98 L596.25,21.7 L596.65,22.48 L597.05,23.33 L597.45,24.24 L597.85,25.22 L598.25,26.25 L598.65,27.34 L599.05,28.48 L599.45,29.67 L599.85,30.9 L600.25,32.19 L600.65,33.51 L601.05,34.87 L601.45,36.26 L601.85,37.69 L602.25,39.14 L602.65,40.62 L603.05,42.12 L603.45,43.63 L603.85,45.17 L604.25,46.71 L604.65,48.27 L605.05,49.83 L605.45,51.4 L605.85,52.97 L606.25,54.54 L606.65,56.11 L607.05,57.68 L607.45,59.23 L607.85,60.78 L608.25,62.31 L608.65,63.84 L609.05,65.35 L609.45,66.84 L609.85,68.32 L610.25,69.78 L610.65,71.22 L611.05,72.63 L611.45,74.03 L611.85,75.41 L612.25,76.76 L612.65,78.08 L613.05,79.39 L613.45,80.66 L613.85,81.91 L614.25,83.14 L614.65,84.34 L615.05,85.51 L615.45,86.66 L615.85,87.78 L616.25,88.88 L616.65,89.94 L617.05,90.99 L617.45,92 L617.85,92.99 L618.25,93.95 L618.65,94.89 L619.05,95.8 L619.45,96.69 L619.85,97.55 L620.25,98.39 L620.65,99.2 L621.05,99.99 L621.45,100.76 L621.85,101.5 L622.25,102.22 L622.65,102.92 L623.05,103.6 L623.45,104.26 L623.85,104.89 L624.25,105.51 L624.65,106.11 L625.05,106.69 L625.45,107.24 L625.85,107.79 L626.25,108.31 L626.65,108.82 L627.05,109.31 L627.45,109.78 L627.85,110.24 L628.25,110.68 L628.65,111.11 L629.05,111.52 L629.45,111.92 L629.85,112.3 L630.25,112.67 L630.65,113.03 L631.05,113.38 L631.45,113.71 L631.85,114.03 L632.25,114.35 L632.65,114.65 L633.05,114.93 L633.45,115.21 L633.85,115.48 L634.25,115.74 L634.65,115.99 L635.05,116.24 L635.45,116.47 L635.85,116.69 L636.25,116.91 L636.65,117.12 L637.05,117.32 L637.45,117.51 L637.85,117.7 L638.25,117.88 L638.65,118.05 L639.05,118.22 L639.45,118.38 L639.85,118.53 L640.25,118.68 L640.65,118.83 L641.05,118.96 L641.45,119.1 L641.85,119.22 L642.25,119.35 L642.65,119.47 L643.05,119.58 L643.45,119.69 L643.85,119.8 L644.25,119.9 L644.65,120 L645.05,120.09 L645.45,120.18 L645.85,120.27 L646.25,120.36 L646.65,120.44 L647.05,120.52 L647.45,120.59 L647.85,120.66 L648.25,120.73 L648.65,120.8 L649.05,120.86 L649.45,120.93 L649.85,120.99 L650.25,121.04 L650.65,121.1 L651.05,121.15 L651.45,121.2 L651.85,121.25 L652.25,121.3 L652.65,121.35 L653.05,121.39 L653.45,121.43 L653.85,121.47 L654.25,121.51 L654.65,121.55 L655.05,121.59 L655.45,121.62 L655.85,121.65 L656.25,121.69 L656.65,121.72 L657.05,121.75 L657.45,121.78 L657.85,121.8 L658.25,121.83 L658.65,121.86 L659.05,121.88 L659.45,121.9 L659.85,121.93 L660.25,121.95 L660.65,121.97 L661.05,121.99 L661.45,122.01 L661.85,122.03 L662.25,122.05 L662.65,122.06 L663.05,122.08 L663.45,122.1 L663.85,122.11 L664.25,122.13 L664.65,122.14" stroke="#ff1010" stroke-width="1.4" fill="none" stroke-dasharray="3.4,1.6" transform="translate(-0.35,0)"/><path d="M58.9,277.5C59.53,276.12 61.43,271.53 62.7,269.2C63.97,266.87 64.92,265.4 66.5,263.5C68.08,261.6 70.72,259.92 72.2,257.8C73.68,255.68 74.28,253.77 75.4,250.8C76.52,247.83 77.42,244.47 78.9,240C80.38,235.53 82.42,229.12 84.3,224C86.18,218.88 88.17,213.75 90.2,209.3C92.23,204.85 93.97,200.78 96.5,197.3C99.03,193.82 101.92,190.3 105.4,188.4C108.88,186.5 113.6,186 117.4,185.9C121.2,185.8 125.13,186.53 128.2,187.8C131.27,189.07 133.47,191.18 135.8,193.5C138.13,195.82 140.28,199.07 142.2,201.7C144.12,204.33 145.52,206 147.3,209.3C149.08,212.6 151,216.38 152.9,221.5C154.8,226.62 157.27,234.8 158.7,240C160.13,245.2 160.82,248.53 161.5,252.7C162.18,256.87 162.27,263.95 162.8,265C163.33,266.05 163.9,260.53 164.7,259C165.5,257.47 166.55,255.48 167.6,255.8C168.65,256.12 169.9,258.47 171,260.9C172.1,263.33 173.25,267.98 174.2,270.4C175.15,272.82 175.82,274.22 176.7,275.4C177.58,276.58 179.03,277.15 179.5,277.5" stroke="#1818b4" stroke-width="1.9" fill="none"/><path d="M224,277.5C224.33,276.02 225.33,270.87 226,268.6C226.67,266.33 227.23,265.35 228,263.9C228.77,262.45 229.83,261.33 230.6,259.9C231.37,258.47 231.93,257.62 232.6,255.3C233.27,252.98 233.82,248.88 234.6,246C235.38,243.12 236.45,240.5 237.3,238C238.15,235.5 238.88,232.58 239.7,231C240.52,229.42 241.27,229.58 242.2,228.5C243.13,227.42 244.5,226.72 245.3,224.5C246.1,222.28 246.4,218.02 247,215.2C247.6,212.38 248.13,210.55 248.9,207.6C249.67,204.65 250.52,200.85 251.6,197.5C252.68,194.15 253.97,190.3 255.4,187.5C256.83,184.7 258.35,182.63 260.2,180.7C262.05,178.77 264.27,176.97 266.5,175.9C268.73,174.83 271.23,174.3 273.6,174.3C275.97,174.3 278.47,174.92 280.7,175.9C282.93,176.88 284.87,178 287,180.2C289.13,182.4 291.32,185.8 293.5,189.1C295.68,192.4 297.93,196.18 300.1,200C302.27,203.82 304.48,208.62 306.5,212C308.52,215.38 310.52,217.45 312.2,220.3C313.88,223.15 315.2,226.15 316.6,229.1C318,232.05 319.48,235.52 320.6,238C321.72,240.48 322.08,241.78 323.3,244C324.52,246.22 326.47,248.65 327.9,251.3C329.33,253.95 330.57,257.02 331.9,259.9C333.23,262.78 334.57,265.67 335.9,268.6C337.23,271.53 339.23,276.02 339.9,277.5" stroke="#1818b4" stroke-width="1.9" fill="none"/><path d="M366,277.5C366.33,276.02 367.23,271.2 368,268.6C368.77,266 369.5,263.9 370.6,261.9C371.7,259.9 373.15,258.25 374.6,256.6C376.05,254.95 378.18,252.7 379.3,252C380.42,251.3 380.63,252.52 381.3,252.4C381.97,252.28 382.63,252.27 383.3,251.3C383.97,250.33 384.53,248.82 385.3,246.6C386.07,244.38 387.05,240.5 387.9,238C388.75,235.5 389.35,233.72 390.4,231.6C391.45,229.48 392.52,228.67 394.2,225.3C395.88,221.93 398.73,214.4 400.5,211.4C402.27,208.4 403.43,207.12 404.8,207.3C406.17,207.48 407.65,214 408.7,212.5C409.75,211 409.92,202.78 411.1,198.3C412.28,193.82 413.95,189.17 415.8,185.6C417.65,182.03 419.82,178.83 422.2,176.9C424.58,174.97 427.47,174 430.1,174C432.73,174 435.35,174.7 438,176.9C440.65,179.1 443.88,183.37 446,187.2C448.12,191.03 449.38,195.55 450.7,199.9C452.02,204.25 452.58,211.28 453.9,213.3C455.22,215.32 457.57,212.1 458.6,212C459.63,211.9 459,211.75 460.1,212.7C461.2,213.65 463.3,215.38 465.2,217.7C467.1,220.02 469.4,224.07 471.5,226.6C473.6,229.13 475.68,230.37 477.8,232.9C479.92,235.43 482.08,239.27 484.2,241.8C486.32,244.33 488.4,245.57 490.5,248.1C492.6,250.63 494.9,254.25 496.8,257C498.7,259.75 499.93,261.27 501.9,264.6C503.87,267.93 507.48,274.93 508.6,277" stroke="#1818b4" stroke-width="1.9" fill="none"/><path d="M541.6,277.55 L542.1,274.97 L542.6,272.49 L543.1,270.1 L543.6,267.8 L544.1,265.57 L544.6,263.42 L545.1,261.33 L545.6,259.3 L546.1,257.32 L546.6,255.4 L547.1,253.52 L547.6,251.68 L548.1,249.88 L548.6,248.11 L549.1,246.39 L549.6,244.69 L550.1,243.02 L550.6,241.38 L551.1,239.77 L551.6,238.18 L552.1,236.62 L552.6,235.08 L553.1,233.57 L553.6,232.08 L554.1,230.62 L554.6,229.18 L555.1,227.76 L555.6,226.37 L556.1,225 L556.6,223.65 L557.1,222.33 L557.6,221.04 L558.1,219.77 L558.6,218.52 L559.1,217.31 L559.6,216.12 L560.1,214.95 L560.6,213.82 L561.1,212.71 L561.6,211.63 L562.1,210.58 L562.6,209.56 L563.1,208.57 L563.6,207.61 L564.1,206.68 L564.6,205.78 L565.1,204.9 L565.6,204.06 L566.1,203.25 L566.6,202.47 L567.1,201.72 L567.6,201 L568.1,200.31 L568.6,199.64 L569.1,199.01 L569.6,198.41 L570.1,197.83 L570.6,197.28 L571.1,196.76 L571.6,196.27 L572.1,195.81 L572.6,195.36 L573.1,194.95 L573.6,194.56 L574.1,194.19 L574.6,193.85 L575.1,193.53 L575.6,193.23 L576.1,192.96 L576.6,192.7 L577.1,192.46 L577.6,192.24 L578.1,192.04 L578.6,191.86 L579.1,191.69 L579.6,191.54 L580.1,191.41 L580.6,191.29 L581.1,191.18 L581.6,191.08 L582.1,191 L582.6,190.93 L583.1,190.87 L583.6,190.82 L584.1,190.77 L584.6,190.74 L585.1,190.72 L585.6,190.7 L586.1,190.69 L586.6,190.69 L587.1,190.69 L587.6,190.7 L588.1,190.72 L588.6,190.74 L589.1,190.77 L589.6,190.8 L590.1,190.84 L590.6,190.89 L591.1,190.94 L591.6,190.99 L592.1,191.05 L592.6,191.11 L593.1,191.18 L593.6,191.26 L594.1,191.34 L594.6,191.43 L595.1,191.53 L595.6,191.63 L596.1,191.74 L596.6,191.86 L597.1,191.99 L597.6,192.12 L598.1,192.27 L598.6,192.43 L599.1,192.59 L599.6,192.77 L600.1,192.96 L600.6,193.17 L601.1,193.39 L601.6,193.62 L602.1,193.87 L602.6,194.13 L603.1,194.42 L603.6,194.72 L604.1,195.03 L604.6,195.37 L605.1,195.73 L605.6,196.11 L606.1,196.51 L606.6,196.93 L607.1,197.37 L607.6,197.84 L608.1,198.34 L608.6,198.85 L609.1,199.4 L609.6,199.97 L610.1,200.56 L610.6,201.19 L611.1,201.84 L611.6,202.52 L612.1,203.22 L612.6,203.96 L613.1,204.72 L613.6,205.52 L614.1,206.34 L614.6,207.19 L615.1,208.06 L615.6,208.97 L616.1,209.9 L616.6,210.87 L617.1,211.86 L617.6,212.87 L618.1,213.92 L618.6,214.99 L619.1,216.08 L619.6,217.2 L620.1,218.34 L620.6,219.51 L621.1,220.69 L621.6,221.9 L622.1,223.12 L622.6,224.37 L623.1,225.63 L623.6,226.91 L624.1,228.2 L624.6,229.51 L625.1,230.83 L625.6,232.15 L626.1,233.49 L626.6,234.84 L627.1,236.19 L627.6,237.54 L628.1,238.9 L628.6,240.27 L629.1,241.63 L629.6,242.99 L630.1,244.35 L630.6,245.71 L631.1,247.07 L631.6,248.42 L632.1,249.77 L632.6,251.11 L633.1,252.45 L633.6,253.78 L634.1,255.11 L634.6,256.43 L635.1,257.75 L635.6,259.07 L636.1,260.38 L636.6,261.69 L637.1,263.01 L637.6,264.34 L638.1,265.67 L638.6,267.01 L639.1,268.37 L639.6,269.75 L640.1,271.16 L640.6,272.6 L641.1,274.08 L641.6,275.61 L642.1,277.19" stroke="#1818b4" stroke-width="1.9" fill="none"/><path d="M50.7,7.45H195.3" stroke="#111" stroke-width="1.25"/><path d="M51.2,122.5H194.8" stroke="#2a2a88" stroke-width="1.6"/><path d="M194.8,7.45V122.5" stroke="#008000" stroke-width="1.1"/><path d="M51.2,123.0v2.6M51.2,7.45v1.8M63.17,123.0v2M63.17,7.45v1.8M75.13,123.0v2.6M75.13,7.45v1.8M87.1,123.0v2M87.1,7.45v1.8M99.07,123.0v2.6M99.07,7.45v1.8M111.03,123.0v2M111.03,7.45v1.8M123,123.0v2.6M123,7.45v1.8M134.97,123.0v2M134.97,7.45v1.8M146.93,123.0v2.6M146.93,7.45v1.8M158.9,123.0v2M158.9,7.45v1.8M170.87,123.0v2.6M170.87,7.45v1.8M182.83,123.0v2M182.83,7.45v1.8M194.8,123.0v2.6M194.8,7.45v1.8" stroke="#444" stroke-width="0.9"/><path d="M51.2,122.5h-3M51.2,112.04h-2M51.2,101.58h-3M51.2,91.12h-2M51.2,80.66h-3M51.2,70.2h-2M51.2,59.75h-3M51.2,49.29h-2M51.2,38.83h-3M51.2,28.37h-2M51.2,17.91h-3M51.2,7.45h-2M51.2,7.45h-2" stroke="#2020c0" stroke-width="1"/><path d="M194.8,122.5h3M194.8,112.91h2M194.8,103.33h3M194.8,93.74h2M194.8,84.15h3M194.8,74.56h2M194.8,64.97h3M194.8,55.39h2M194.8,45.8h3M194.8,36.21h2M194.8,26.62h3M194.8,17.04h2M194.8,7.45h3" stroke="#008000" stroke-width="1"/><rect x="51.1" y="161.4" width="143.1" height="115.8" stroke="#222" stroke-width="1.2" fill="none"/><path d="M51.1,277.2v2M51.1,161.4v2M65.41,277.2v3M65.41,161.4v2M79.72,277.2v2M79.72,161.4v2M94.03,277.2v3M94.03,161.4v2M108.34,277.2v2M108.34,161.4v2M122.65,277.2v3M122.65,161.4v2M136.96,277.2v2M136.96,161.4v2M151.27,277.2v3M151.27,161.4v2M165.58,277.2v2M165.58,161.4v2M179.89,277.2v3M179.89,161.4v2M194.2,277.2v2M194.2,161.4v2M51.1,161.4h-2.4M194.2,161.4h-2.4M51.1,174.45h-2.4M194.2,174.45h-2.4M51.1,170.52h-1.3M194.2,170.52h-1.3M51.1,168.22h-1.3M194.2,168.22h-1.3M51.1,166.59h-1.3M194.2,166.59h-1.3M51.1,165.33h-1.3M194.2,165.33h-1.3M51.1,164.3h-1.3M194.2,164.3h-1.3M51.1,163.42h-1.3M194.2,163.42h-1.3M51.1,162.66h-1.3M194.2,162.66h-1.3M51.1,162h-1.3M194.2,162h-1.3M51.1,187.5h-2.4M194.2,187.5h-2.4M51.1,183.57h-1.3M194.2,183.57h-1.3M51.1,181.27h-1.3M194.2,181.27h-1.3M51.1,179.64h-1.3M194.2,179.64h-1.3M51.1,178.38h-1.3M194.2,178.38h-1.3M51.1,177.35h-1.3M194.2,177.35h-1.3M51.1,176.47h-1.3M194.2,176.47h-1.3M51.1,175.71h-1.3M194.2,175.71h-1.3M51.1,175.05h-1.3M194.2,175.05h-1.3M51.1,200.55h-2.4M194.2,200.55h-2.4M51.1,196.62h-1.3M194.2,196.62h-1.3M51.1,194.32h-1.3M194.2,194.32h-1.3M51.1,192.69h-1.3M194.2,192.69h-1.3M51.1,191.43h-1.3M194.2,191.43h-1.3M51.1,190.4h-1.3M194.2,190.4h-1.3M51.1,189.52h-1.3M194.2,189.52h-1.3M51.1,188.76h-1.3M194.2,188.76h-1.3M51.1,188.1h-1.3M194.2,188.1h-1.3M51.1,213.6h-2.4M194.2,213.6h-2.4M51.1,209.67h-1.3M194.2,209.67h-1.3M51.1,207.37h-1.3M194.2,207.37h-1.3M51.1,205.74h-1.3M194.2,205.74h-1.3M51.1,204.48h-1.3M194.2,204.48h-1.3M51.1,203.45h-1.3M194.2,203.45h-1.3M51.1,202.57h-1.3M194.2,202.57h-1.3M51.1,201.81h-1.3M194.2,201.81h-1.3M51.1,201.15h-1.3M194.2,201.15h-1.3M51.1,226.65h-2.4M194.2,226.65h-2.4M51.1,222.72h-1.3M194.2,222.72h-1.3M51.1,220.42h-1.3M194.2,220.42h-1.3M51.1,218.79h-1.3M194.2,218.79h-1.3M51.1,217.53h-1.3M194.2,217.53h-1.3M51.1,216.5h-1.3M194.2,216.5h-1.3M51.1,215.62h-1.3M194.2,215.62h-1.3M51.1,214.86h-1.3M194.2,214.86h-1.3M51.1,214.2h-1.3M194.2,214.2h-1.3M51.1,239.7h-2.4M194.2,239.7h-2.4M51.1,235.77h-1.3M194.2,235.77h-1.3M51.1,233.47h-1.3M194.2,233.47h-1.3M51.1,231.84h-1.3M194.2,231.84h-1.3M51.1,230.58h-1.3M194.2,230.58h-1.3M51.1,229.55h-1.3M194.2,229.55h-1.3M51.1,228.67h-1.3M194.2,228.67h-1.3M51.1,227.91h-1.3M194.2,227.91h-1.3M51.1,227.25h-1.3M194.2,227.25h-1.3M51.1,252.75h-2.4M194.2,252.75h-2.4M51.1,248.82h-1.3M194.2,248.82h-1.3M51.1,246.52h-1.3M194.2,246.52h-1.3M51.1,244.89h-1.3M194.2,244.89h-1.3M51.1,243.63h-1.3M194.2,243.63h-1.3M51.1,242.6h-1.3M194.2,242.6h-1.3M51.1,241.72h-1.3M194.2,241.72h-1.3M51.1,240.96h-1.3M194.2,240.96h-1.3M51.1,240.3h-1.3M194.2,240.3h-1.3M51.1,265.8h-2.4M194.2,265.8h-2.4M51.1,261.87h-1.3M194.2,261.87h-1.3M51.1,259.57h-1.3M194.2,259.57h-1.3M51.1,257.94h-1.3M194.2,257.94h-1.3M51.1,256.68h-1.3M194.2,256.68h-1.3M51.1,255.65h-1.3M194.2,255.65h-1.3M51.1,254.77h-1.3M194.2,254.77h-1.3M51.1,254.01h-1.3M194.2,254.01h-1.3M51.1,253.35h-1.3M194.2,253.35h-1.3M51.1,278.85h-2.4M194.2,278.85h-2.4M51.1,274.92h-1.3M194.2,274.92h-1.3M51.1,272.62h-1.3M194.2,272.62h-1.3M51.1,270.99h-1.3M194.2,270.99h-1.3M51.1,269.73h-1.3M194.2,269.73h-1.3M51.1,268.7h-1.3M194.2,268.7h-1.3M51.1,267.82h-1.3M194.2,267.82h-1.3M51.1,267.06h-1.3M194.2,267.06h-1.3M51.1,266.4h-1.3M194.2,266.4h-1.3" stroke="#222" stroke-width="1"/><path d="M208,7.45H353.3" stroke="#111" stroke-width="1.25"/><path d="M208.5,122.5H352.8" stroke="#2a2a88" stroke-width="1.6"/><path d="M352.8,7.45V122.5" stroke="#008000" stroke-width="1.1"/><path d="M208.5,123.0v2.6M208.5,7.45v1.8M220.53,123.0v2M220.53,7.45v1.8M232.55,123.0v2.6M232.55,7.45v1.8M244.57,123.0v2M244.57,7.45v1.8M256.6,123.0v2.6M256.6,7.45v1.8M268.62,123.0v2M268.62,7.45v1.8M280.65,123.0v2.6M280.65,7.45v1.8M292.68,123.0v2M292.68,7.45v1.8M304.7,123.0v2.6M304.7,7.45v1.8M316.73,123.0v2M316.73,7.45v1.8M328.75,123.0v2.6M328.75,7.45v1.8M340.77,123.0v2M340.77,7.45v1.8M352.8,123.0v2.6M352.8,7.45v1.8" stroke="#444" stroke-width="0.9"/><path d="M208.5,122.5h-3M208.5,112.04h-2M208.5,101.58h-3M208.5,91.12h-2M208.5,80.66h-3M208.5,70.2h-2M208.5,59.75h-3M208.5,49.29h-2M208.5,38.83h-3M208.5,28.37h-2M208.5,17.91h-3M208.5,7.45h-2M208.5,7.45h-2" stroke="#2020c0" stroke-width="1"/><path d="M352.8,122.5h3M352.8,112.91h2M352.8,103.33h3M352.8,93.74h2M352.8,84.15h3M352.8,74.56h2M352.8,64.97h3M352.8,55.39h2M352.8,45.8h3M352.8,36.21h2M352.8,26.62h3M352.8,17.04h2M352.8,7.45h3" stroke="#008000" stroke-width="1"/><rect x="208.4" y="161.4" width="144" height="115.8" stroke="#222" stroke-width="1.2" fill="none"/><path d="M208.4,277.2v2M208.4,161.4v2M222.8,277.2v3M222.8,161.4v2M237.2,277.2v2M237.2,161.4v2M251.6,277.2v3M251.6,161.4v2M266,277.2v2M266,161.4v2M280.4,277.2v3M280.4,161.4v2M294.8,277.2v2M294.8,161.4v2M309.2,277.2v3M309.2,161.4v2M323.6,277.2v2M323.6,161.4v2M338,277.2v3M338,161.4v2M352.4,277.2v2M352.4,161.4v2M208.4,161.4h-2.4M352.4,161.4h-2.4M208.4,174.45h-2.4M352.4,174.45h-2.4M208.4,170.52h-1.3M352.4,170.52h-1.3M208.4,168.22h-1.3M352.4,168.22h-1.3M208.4,166.59h-1.3M352.4,166.59h-1.3M208.4,165.33h-1.3M352.4,165.33h-1.3M208.4,164.3h-1.3M352.4,164.3h-1.3M208.4,163.42h-1.3M352.4,163.42h-1.3M208.4,162.66h-1.3M352.4,162.66h-1.3M208.4,162h-1.3M352.4,162h-1.3M208.4,187.5h-2.4M352.4,187.5h-2.4M208.4,183.57h-1.3M352.4,183.57h-1.3M208.4,181.27h-1.3M352.4,181.27h-1.3M208.4,179.64h-1.3M352.4,179.64h-1.3M208.4,178.38h-1.3M352.4,178.38h-1.3M208.4,177.35h-1.3M352.4,177.35h-1.3M208.4,176.47h-1.3M352.4,176.47h-1.3M208.4,175.71h-1.3M352.4,175.71h-1.3M208.4,175.05h-1.3M352.4,175.05h-1.3M208.4,200.55h-2.4M352.4,200.55h-2.4M208.4,196.62h-1.3M352.4,196.62h-1.3M208.4,194.32h-1.3M352.4,194.32h-1.3M208.4,192.69h-1.3M352.4,192.69h-1.3M208.4,191.43h-1.3M352.4,191.43h-1.3M208.4,190.4h-1.3M352.4,190.4h-1.3M208.4,189.52h-1.3M352.4,189.52h-1.3M208.4,188.76h-1.3M352.4,188.76h-1.3M208.4,188.1h-1.3M352.4,188.1h-1.3M208.4,213.6h-2.4M352.4,213.6h-2.4M208.4,209.67h-1.3M352.4,209.67h-1.3M208.4,207.37h-1.3M352.4,207.37h-1.3M208.4,205.74h-1.3M352.4,205.74h-1.3M208.4,204.48h-1.3M352.4,204.48h-1.3M208.4,203.45h-1.3M352.4,203.45h-1.3M208.4,202.57h-1.3M352.4,202.57h-1.3M208.4,201.81h-1.3M352.4,201.81h-1.3M208.4,201.15h-1.3M352.4,201.15h-1.3M208.4,226.65h-2.4M352.4,226.65h-2.4M208.4,222.72h-1.3M352.4,222.72h-1.3M208.4,220.42h-1.3M352.4,220.42h-1.3M208.4,218.79h-1.3M352.4,218.79h-1.3M208.4,217.53h-1.3M352.4,217.53h-1.3M208.4,216.5h-1.3M352.4,216.5h-1.3M208.4,215.62h-1.3M352.4,215.62h-1.3M208.4,214.86h-1.3M352.4,214.86h-1.3M208.4,214.2h-1.3M352.4,214.2h-1.3M208.4,239.7h-2.4M352.4,239.7h-2.4M208.4,235.77h-1.3M352.4,235.77h-1.3M208.4,233.47h-1.3M352.4,233.47h-1.3M208.4,231.84h-1.3M352.4,231.84h-1.3M208.4,230.58h-1.3M352.4,230.58h-1.3M208.4,229.55h-1.3M352.4,229.55h-1.3M208.4,228.67h-1.3M352.4,228.67h-1.3M208.4,227.91h-1.3M352.4,227.91h-1.3M208.4,227.25h-1.3M352.4,227.25h-1.3M208.4,252.75h-2.4M352.4,252.75h-2.4M208.4,248.82h-1.3M352.4,248.82h-1.3M208.4,246.52h-1.3M352.4,246.52h-1.3M208.4,244.89h-1.3M352.4,244.89h-1.3M208.4,243.63h-1.3M352.4,243.63h-1.3M208.4,242.6h-1.3M352.4,242.6h-1.3M208.4,241.72h-1.3M352.4,241.72h-1.3M208.4,240.96h-1.3M352.4,240.96h-1.3M208.4,240.3h-1.3M352.4,240.3h-1.3M208.4,265.8h-2.4M352.4,265.8h-2.4M208.4,261.87h-1.3M352.4,261.87h-1.3M208.4,259.57h-1.3M352.4,259.57h-1.3M208.4,257.94h-1.3M352.4,257.94h-1.3M208.4,256.68h-1.3M352.4,256.68h-1.3M208.4,255.65h-1.3M352.4,255.65h-1.3M208.4,254.77h-1.3M352.4,254.77h-1.3M208.4,254.01h-1.3M352.4,254.01h-1.3M208.4,253.35h-1.3M352.4,253.35h-1.3M208.4,278.85h-2.4M352.4,278.85h-2.4M208.4,274.92h-1.3M352.4,274.92h-1.3M208.4,272.62h-1.3M352.4,272.62h-1.3M208.4,270.99h-1.3M352.4,270.99h-1.3M208.4,269.73h-1.3M352.4,269.73h-1.3M208.4,268.7h-1.3M352.4,268.7h-1.3M208.4,267.82h-1.3M352.4,267.82h-1.3M208.4,267.06h-1.3M352.4,267.06h-1.3M208.4,266.4h-1.3M352.4,266.4h-1.3" stroke="#222" stroke-width="1"/><path d="M364.3,7.45H509" stroke="#111" stroke-width="1.25"/><path d="M364.8,122.5H508.5" stroke="#2a2a88" stroke-width="1.6"/><path d="M508.5,7.45V122.5" stroke="#008000" stroke-width="1.1"/><path d="M364.8,123.0v2.6M364.8,7.45v1.8M376.78,123.0v2M376.78,7.45v1.8M388.75,123.0v2.6M388.75,7.45v1.8M400.73,123.0v2M400.73,7.45v1.8M412.7,123.0v2.6M412.7,7.45v1.8M424.68,123.0v2M424.68,7.45v1.8M436.65,123.0v2.6M436.65,7.45v1.8M448.62,123.0v2M448.62,7.45v1.8M460.6,123.0v2.6M460.6,7.45v1.8M472.57,123.0v2M472.57,7.45v1.8M484.55,123.0v2.6M484.55,7.45v1.8M496.52,123.0v2M496.52,7.45v1.8M508.5,123.0v2.6M508.5,7.45v1.8" stroke="#444" stroke-width="0.9"/><path d="M364.8,122.5h-3M364.8,112.04h-2M364.8,101.58h-3M364.8,91.12h-2M364.8,80.66h-3M364.8,70.2h-2M364.8,59.75h-3M364.8,49.29h-2M364.8,38.83h-3M364.8,28.37h-2M364.8,17.91h-3M364.8,7.45h-2M364.8,7.45h-2" stroke="#2020c0" stroke-width="1"/><path d="M508.5,122.5h3M508.5,112.91h2M508.5,103.33h3M508.5,93.74h2M508.5,84.15h3M508.5,74.56h2M508.5,64.97h3M508.5,55.39h2M508.5,45.8h3M508.5,36.21h2M508.5,26.62h3M508.5,17.04h2M508.5,7.45h3" stroke="#008000" stroke-width="1"/><rect x="364.4" y="161.4" width="144" height="115.8" stroke="#222" stroke-width="1.2" fill="none"/><path d="M364.4,277.2v2M364.4,161.4v2M378.8,277.2v3M378.8,161.4v2M393.2,277.2v2M393.2,161.4v2M407.6,277.2v3M407.6,161.4v2M422,277.2v2M422,161.4v2M436.4,277.2v3M436.4,161.4v2M450.8,277.2v2M450.8,161.4v2M465.2,277.2v3M465.2,161.4v2M479.6,277.2v2M479.6,161.4v2M494,277.2v3M494,161.4v2M508.4,277.2v2M508.4,161.4v2M364.4,161.4h-2.4M508.4,161.4h-2.4M364.4,174.45h-2.4M508.4,174.45h-2.4M364.4,170.52h-1.3M508.4,170.52h-1.3M364.4,168.22h-1.3M508.4,168.22h-1.3M364.4,166.59h-1.3M508.4,166.59h-1.3M364.4,165.33h-1.3M508.4,165.33h-1.3M364.4,164.3h-1.3M508.4,164.3h-1.3M364.4,163.42h-1.3M508.4,163.42h-1.3M364.4,162.66h-1.3M508.4,162.66h-1.3M364.4,162h-1.3M508.4,162h-1.3M364.4,187.5h-2.4M508.4,187.5h-2.4M364.4,183.57h-1.3M508.4,183.57h-1.3M364.4,181.27h-1.3M508.4,181.27h-1.3M364.4,179.64h-1.3M508.4,179.64h-1.3M364.4,178.38h-1.3M508.4,178.38h-1.3M364.4,177.35h-1.3M508.4,177.35h-1.3M364.4,176.47h-1.3M508.4,176.47h-1.3M364.4,175.71h-1.3M508.4,175.71h-1.3M364.4,175.05h-1.3M508.4,175.05h-1.3M364.4,200.55h-2.4M508.4,200.55h-2.4M364.4,196.62h-1.3M508.4,196.62h-1.3M364.4,194.32h-1.3M508.4,194.32h-1.3M364.4,192.69h-1.3M508.4,192.69h-1.3M364.4,191.43h-1.3M508.4,191.43h-1.3M364.4,190.4h-1.3M508.4,190.4h-1.3M364.4,189.52h-1.3M508.4,189.52h-1.3M364.4,188.76h-1.3M508.4,188.76h-1.3M364.4,188.1h-1.3M508.4,188.1h-1.3M364.4,213.6h-2.4M508.4,213.6h-2.4M364.4,209.67h-1.3M508.4,209.67h-1.3M364.4,207.37h-1.3M508.4,207.37h-1.3M364.4,205.74h-1.3M508.4,205.74h-1.3M364.4,204.48h-1.3M508.4,204.48h-1.3M364.4,203.45h-1.3M508.4,203.45h-1.3M364.4,202.57h-1.3M508.4,202.57h-1.3M364.4,201.81h-1.3M508.4,201.81h-1.3M364.4,201.15h-1.3M508.4,201.15h-1.3M364.4,226.65h-2.4M508.4,226.65h-2.4M364.4,222.72h-1.3M508.4,222.72h-1.3M364.4,220.42h-1.3M508.4,220.42h-1.3M364.4,218.79h-1.3M508.4,218.79h-1.3M364.4,217.53h-1.3M508.4,217.53h-1.3M364.4,216.5h-1.3M508.4,216.5h-1.3M364.4,215.62h-1.3M508.4,215.62h-1.3M364.4,214.86h-1.3M508.4,214.86h-1.3M364.4,214.2h-1.3M508.4,214.2h-1.3M364.4,239.7h-2.4M508.4,239.7h-2.4M364.4,235.77h-1.3M508.4,235.77h-1.3M364.4,233.47h-1.3M508.4,233.47h-1.3M364.4,231.84h-1.3M508.4,231.84h-1.3M364.4,230.58h-1.3M508.4,230.58h-1.3M364.4,229.55h-1.3M508.4,229.55h-1.3M364.4,228.67h-1.3M508.4,228.67h-1.3M364.4,227.91h-1.3M508.4,227.91h-1.3M364.4,227.25h-1.3M508.4,227.25h-1.3M364.4,252.75h-2.4M508.4,252.75h-2.4M364.4,248.82h-1.3M508.4,248.82h-1.3M364.4,246.52h-1.3M508.4,246.52h-1.3M364.4,244.89h-1.3M508.4,244.89h-1.3M364.4,243.63h-1.3M508.4,243.63h-1.3M364.4,242.6h-1.3M508.4,242.6h-1.3M364.4,241.72h-1.3M508.4,241.72h-1.3M364.4,240.96h-1.3M508.4,240.96h-1.3M364.4,240.3h-1.3M508.4,240.3h-1.3M364.4,265.8h-2.4M508.4,265.8h-2.4M364.4,261.87h-1.3M508.4,261.87h-1.3M364.4,259.57h-1.3M508.4,259.57h-1.3M364.4,257.94h-1.3M508.4,257.94h-1.3M364.4,256.68h-1.3M508.4,256.68h-1.3M364.4,255.65h-1.3M508.4,255.65h-1.3M364.4,254.77h-1.3M508.4,254.77h-1.3M364.4,254.01h-1.3M508.4,254.01h-1.3M364.4,253.35h-1.3M508.4,253.35h-1.3M364.4,278.85h-2.4M508.4,278.85h-2.4M364.4,274.92h-1.3M508.4,274.92h-1.3M364.4,272.62h-1.3M508.4,272.62h-1.3M364.4,270.99h-1.3M508.4,270.99h-1.3M364.4,269.73h-1.3M508.4,269.73h-1.3M364.4,268.7h-1.3M508.4,268.7h-1.3M364.4,267.82h-1.3M508.4,267.82h-1.3M364.4,267.06h-1.3M508.4,267.06h-1.3M364.4,266.4h-1.3M508.4,266.4h-1.3" stroke="#222" stroke-width="1"/><path d="M520.95,7.45H665.3" stroke="#111" stroke-width="1.25"/><path d="M521.45,122.5H664.8" stroke="#2a2a88" stroke-width="1.6"/><path d="M664.8,7.45V122.5" stroke="#008000" stroke-width="1.1"/><path d="M521.45,123.0v2.6M521.45,7.45v1.8M533.4,123.0v2M533.4,7.45v1.8M545.34,123.0v2.6M545.34,7.45v1.8M557.29,123.0v2M557.29,7.45v1.8M569.23,123.0v2.6M569.23,7.45v1.8M581.18,123.0v2M581.18,7.45v1.8M593.12,123.0v2.6M593.12,7.45v1.8M605.07,123.0v2M605.07,7.45v1.8M617.02,123.0v2.6M617.02,7.45v1.8M628.96,123.0v2M628.96,7.45v1.8M640.91,123.0v2.6M640.91,7.45v1.8M652.85,123.0v2M652.85,7.45v1.8M664.8,123.0v2.6M664.8,7.45v1.8" stroke="#444" stroke-width="0.9"/><path d="M521.45,122.5h-3M521.45,112.04h-2M521.45,101.58h-3M521.45,91.12h-2M521.45,80.66h-3M521.45,70.2h-2M521.45,59.75h-3M521.45,49.29h-2M521.45,38.83h-3M521.45,28.37h-2M521.45,17.91h-3M521.45,7.45h-2M521.45,7.45h-2" stroke="#2020c0" stroke-width="1"/><path d="M664.8,122.5h3M664.8,112.91h2M664.8,103.33h3M664.8,93.74h2M664.8,84.15h3M664.8,74.56h2M664.8,64.97h3M664.8,55.39h2M664.8,45.8h3M664.8,36.21h2M664.8,26.62h3M664.8,17.04h2M664.8,7.45h3" stroke="#008000" stroke-width="1"/><rect x="521.3" y="161.4" width="144" height="115.8" stroke="#222" stroke-width="1.2" fill="none"/><path d="M521.3,277.2v2M521.3,161.4v2M535.7,277.2v3M535.7,161.4v2M550.1,277.2v2M550.1,161.4v2M564.5,277.2v3M564.5,161.4v2M578.9,277.2v2M578.9,161.4v2M593.3,277.2v3M593.3,161.4v2M607.7,277.2v2M607.7,161.4v2M622.1,277.2v3M622.1,161.4v2M636.5,277.2v2M636.5,161.4v2M650.9,277.2v3M650.9,161.4v2M665.3,277.2v2M665.3,161.4v2M521.3,161.4h-2.4M665.3,161.4h-2.4M521.3,174.45h-2.4M665.3,174.45h-2.4M521.3,170.52h-1.3M665.3,170.52h-1.3M521.3,168.22h-1.3M665.3,168.22h-1.3M521.3,166.59h-1.3M665.3,166.59h-1.3M521.3,165.33h-1.3M665.3,165.33h-1.3M521.3,164.3h-1.3M665.3,164.3h-1.3M521.3,163.42h-1.3M665.3,163.42h-1.3M521.3,162.66h-1.3M665.3,162.66h-1.3M521.3,162h-1.3M665.3,162h-1.3M521.3,187.5h-2.4M665.3,187.5h-2.4M521.3,183.57h-1.3M665.3,183.57h-1.3M521.3,181.27h-1.3M665.3,181.27h-1.3M521.3,179.64h-1.3M665.3,179.64h-1.3M521.3,178.38h-1.3M665.3,178.38h-1.3M521.3,177.35h-1.3M665.3,177.35h-1.3M521.3,176.47h-1.3M665.3,176.47h-1.3M521.3,175.71h-1.3M665.3,175.71h-1.3M521.3,175.05h-1.3M665.3,175.05h-1.3M521.3,200.55h-2.4M665.3,200.55h-2.4M521.3,196.62h-1.3M665.3,196.62h-1.3M521.3,194.32h-1.3M665.3,194.32h-1.3M521.3,192.69h-1.3M665.3,192.69h-1.3M521.3,191.43h-1.3M665.3,191.43h-1.3M521.3,190.4h-1.3M665.3,190.4h-1.3M521.3,189.52h-1.3M665.3,189.52h-1.3M521.3,188.76h-1.3M665.3,188.76h-1.3M521.3,188.1h-1.3M665.3,188.1h-1.3M521.3,213.6h-2.4M665.3,213.6h-2.4M521.3,209.67h-1.3M665.3,209.67h-1.3M521.3,207.37h-1.3M665.3,207.37h-1.3M521.3,205.74h-1.3M665.3,205.74h-1.3M521.3,204.48h-1.3M665.3,204.48h-1.3M521.3,203.45h-1.3M665.3,203.45h-1.3M521.3,202.57h-1.3M665.3,202.57h-1.3M521.3,201.81h-1.3M665.3,201.81h-1.3M521.3,201.15h-1.3M665.3,201.15h-1.3M521.3,226.65h-2.4M665.3,226.65h-2.4M521.3,222.72h-1.3M665.3,222.72h-1.3M521.3,220.42h-1.3M665.3,220.42h-1.3M521.3,218.79h-1.3M665.3,218.79h-1.3M521.3,217.53h-1.3M665.3,217.53h-1.3M521.3,216.5h-1.3M665.3,216.5h-1.3M521.3,215.62h-1.3M665.3,215.62h-1.3M521.3,214.86h-1.3M665.3,214.86h-1.3M521.3,214.2h-1.3M665.3,214.2h-1.3M521.3,239.7h-2.4M665.3,239.7h-2.4M521.3,235.77h-1.3M665.3,235.77h-1.3M521.3,233.47h-1.3M665.3,233.47h-1.3M521.3,231.84h-1.3M665.3,231.84h-1.3M521.3,230.58h-1.3M665.3,230.58h-1.3M521.3,229.55h-1.3M665.3,229.55h-1.3M521.3,228.67h-1.3M665.3,228.67h-1.3M521.3,227.91h-1.3M665.3,227.91h-1.3M521.3,227.25h-1.3M665.3,227.25h-1.3M521.3,252.75h-2.4M665.3,252.75h-2.4M521.3,248.82h-1.3M665.3,248.82h-1.3M521.3,246.52h-1.3M665.3,246.52h-1.3M521.3,244.89h-1.3M665.3,244.89h-1.3M521.3,243.63h-1.3M665.3,243.63h-1.3M521.3,242.6h-1.3M665.3,242.6h-1.3M521.3,241.72h-1.3M665.3,241.72h-1.3M521.3,240.96h-1.3M665.3,240.96h-1.3M521.3,240.3h-1.3M665.3,240.3h-1.3M521.3,265.8h-2.4M665.3,265.8h-2.4M521.3,261.87h-1.3M665.3,261.87h-1.3M521.3,259.57h-1.3M665.3,259.57h-1.3M521.3,257.94h-1.3M665.3,257.94h-1.3M521.3,256.68h-1.3M665.3,256.68h-1.3M521.3,255.65h-1.3M665.3,255.65h-1.3M521.3,254.77h-1.3M665.3,254.77h-1.3M521.3,254.01h-1.3M665.3,254.01h-1.3M521.3,253.35h-1.3M665.3,253.35h-1.3M521.3,278.85h-2.4M665.3,278.85h-2.4M521.3,274.92h-1.3M665.3,274.92h-1.3M521.3,272.62h-1.3M665.3,272.62h-1.3M521.3,270.99h-1.3M665.3,270.99h-1.3M521.3,269.73h-1.3M665.3,269.73h-1.3M521.3,268.7h-1.3M665.3,268.7h-1.3M521.3,267.82h-1.3M665.3,267.82h-1.3M521.3,267.06h-1.3M665.3,267.06h-1.3M521.3,266.4h-1.3M665.3,266.4h-1.3" stroke="#222" stroke-width="1"/><g stroke-width="0"><text x="52.2" y="139.2" text-anchor="middle" fill="#1a1a1a" stroke="#1a1a1a" font-size="14.5" >-3</text><text x="76.13" y="139.2" text-anchor="middle" fill="#1a1a1a" stroke="#1a1a1a" font-size="14.5" >-2</text><text x="100.07" y="139.2" text-anchor="middle" fill="#1a1a1a" stroke="#1a1a1a" font-size="14.5" >-1</text><text x="123.2" y="139.2" text-anchor="middle" fill="#1a1a1a" stroke="#1a1a1a" font-size="14.5" >0</text><text x="145.93" y="139.2" text-anchor="middle" fill="#1a1a1a" stroke="#1a1a1a" font-size="14.5" >1</text><text x="169.87" y="139.2" text-anchor="middle" fill="#1a1a1a" stroke="#1a1a1a" font-size="14.5" >2</text><text x="193.8" y="139.2" text-anchor="middle" fill="#1a1a1a" stroke="#1a1a1a" font-size="14.5" >3</text><text x="123.5" y="152.5" text-anchor="middle" fill="#1a1a1a" stroke="#1a1a1a" font-size="14.4" >Time, ps</text><text x="65.41" y="293.2" text-anchor="middle" fill="#1a1a1a" stroke="#1a1a1a" font-size="14.6" >1860</text><text x="121.15" y="293.2" text-anchor="middle" fill="#1a1a1a" stroke="#1a1a1a" font-size="14.6" >1900</text><text x="179.89" y="293.2" text-anchor="middle" fill="#1a1a1a" stroke="#1a1a1a" font-size="14.6" >1940</text><text x="122.35" y="310.6" text-anchor="middle" fill="#1a1a1a" stroke="#1a1a1a" font-size="14.9" >Wavelength, nm</text><text x="209.5" y="139.2" text-anchor="middle" fill="#1a1a1a" stroke="#1a1a1a" font-size="14.5" >-3</text><text x="233.55" y="139.2" text-anchor="middle" fill="#1a1a1a" stroke="#1a1a1a" font-size="14.5" >-2</text><text x="257.6" y="139.2" text-anchor="middle" fill="#1a1a1a" stroke="#1a1a1a" font-size="14.5" >-1</text><text x="280.85" y="139.2" text-anchor="middle" fill="#1a1a1a" stroke="#1a1a1a" font-size="14.5" >0</text><text x="303.7" y="139.2" text-anchor="middle" fill="#1a1a1a" stroke="#1a1a1a" font-size="14.5" >1</text><text x="327.75" y="139.2" text-anchor="middle" fill="#1a1a1a" stroke="#1a1a1a" font-size="14.5" >2</text><text x="351.8" y="139.2" text-anchor="middle" fill="#1a1a1a" stroke="#1a1a1a" font-size="14.5" >3</text><text x="281.15" y="152.5" text-anchor="middle" fill="#1a1a1a" stroke="#1a1a1a" font-size="14.4" >Time, ps</text><text x="222.8" y="293.2" text-anchor="middle" fill="#1a1a1a" stroke="#1a1a1a" font-size="14.6" >1860</text><text x="278.9" y="293.2" text-anchor="middle" fill="#1a1a1a" stroke="#1a1a1a" font-size="14.6" >1900</text><text x="338" y="293.2" text-anchor="middle" fill="#1a1a1a" stroke="#1a1a1a" font-size="14.6" >1940</text><text x="280.1" y="310.6" text-anchor="middle" fill="#1a1a1a" stroke="#1a1a1a" font-size="14.9" >Wavelength, nm</text><text x="365.8" y="139.2" text-anchor="middle" fill="#1a1a1a" stroke="#1a1a1a" font-size="14.5" >-3</text><text x="389.75" y="139.2" text-anchor="middle" fill="#1a1a1a" stroke="#1a1a1a" font-size="14.5" >-2</text><text x="413.7" y="139.2" text-anchor="middle" fill="#1a1a1a" stroke="#1a1a1a" font-size="14.5" >-1</text><text x="436.85" y="139.2" text-anchor="middle" fill="#1a1a1a" stroke="#1a1a1a" font-size="14.5" >0</text><text x="459.6" y="139.2" text-anchor="middle" fill="#1a1a1a" stroke="#1a1a1a" font-size="14.5" >1</text><text x="483.55" y="139.2" text-anchor="middle" fill="#1a1a1a" stroke="#1a1a1a" font-size="14.5" >2</text><text x="507.5" y="139.2" text-anchor="middle" fill="#1a1a1a" stroke="#1a1a1a" font-size="14.5" >3</text><text x="437.15" y="152.5" text-anchor="middle" fill="#1a1a1a" stroke="#1a1a1a" font-size="14.4" >Time, ps</text><text x="378.8" y="293.2" text-anchor="middle" fill="#1a1a1a" stroke="#1a1a1a" font-size="14.6" >1860</text><text x="434.9" y="293.2" text-anchor="middle" fill="#1a1a1a" stroke="#1a1a1a" font-size="14.6" >1900</text><text x="494" y="293.2" text-anchor="middle" fill="#1a1a1a" stroke="#1a1a1a" font-size="14.6" >1940</text><text x="436.1" y="310.6" text-anchor="middle" fill="#1a1a1a" stroke="#1a1a1a" font-size="14.9" >Wavelength, nm</text><text x="522.45" y="139.2" text-anchor="middle" fill="#1a1a1a" stroke="#1a1a1a" font-size="14.5" >-3</text><text x="546.34" y="139.2" text-anchor="middle" fill="#1a1a1a" stroke="#1a1a1a" font-size="14.5" >-2</text><text x="570.23" y="139.2" text-anchor="middle" fill="#1a1a1a" stroke="#1a1a1a" font-size="14.5" >-1</text><text x="593.33" y="139.2" text-anchor="middle" fill="#1a1a1a" stroke="#1a1a1a" font-size="14.5" >0</text><text x="616.02" y="139.2" text-anchor="middle" fill="#1a1a1a" stroke="#1a1a1a" font-size="14.5" >1</text><text x="639.91" y="139.2" text-anchor="middle" fill="#1a1a1a" stroke="#1a1a1a" font-size="14.5" >2</text><text x="663.8" y="139.2" text-anchor="middle" fill="#1a1a1a" stroke="#1a1a1a" font-size="14.5" >3</text><text x="593.62" y="152.5" text-anchor="middle" fill="#1a1a1a" stroke="#1a1a1a" font-size="14.4" >Time, ps</text><text x="535.7" y="293.2" text-anchor="middle" fill="#1a1a1a" stroke="#1a1a1a" font-size="14.6" >1860</text><text x="591.8" y="293.2" text-anchor="middle" fill="#1a1a1a" stroke="#1a1a1a" font-size="14.6" >1900</text><text x="650.9" y="293.2" text-anchor="middle" fill="#1a1a1a" stroke="#1a1a1a" font-size="14.6" >1940</text><text x="593" y="310.6" text-anchor="middle" fill="#1a1a1a" stroke="#1a1a1a" font-size="14.9" >Wavelength, nm</text><text x="44.5" y="127.3" text-anchor="end" fill="#1818b0" stroke="#1818b0" font-size="14" >0.0</text><text x="44.5" y="106.38" text-anchor="end" fill="#1818b0" stroke="#1818b0" font-size="14" >0.2</text><text x="44.5" y="85.46" text-anchor="end" fill="#1818b0" stroke="#1818b0" font-size="14" >0.4</text><text x="44.5" y="64.55" text-anchor="end" fill="#1818b0" stroke="#1818b0" font-size="14" >0.6</text><text x="44.5" y="43.63" text-anchor="end" fill="#1818b0" stroke="#1818b0" font-size="14" >0.8</text><text x="44.5" y="22.71" text-anchor="end" fill="#1818b0" stroke="#1818b0" font-size="14" >1.0</text><text x="44.5" y="166.2" text-anchor="end" fill="#1a1a1a" stroke="#1a1a1a" font-size="14" >1</text><text x="44.5" y="192.3" text-anchor="end" fill="#1a1a1a" stroke="#1a1a1a" font-size="14" >0.01</text><text x="44.5" y="218.4" text-anchor="end" fill="#1a1a1a" stroke="#1a1a1a" font-size="14" >1E-4</text><text x="44.5" y="244.5" text-anchor="end" fill="#1a1a1a" stroke="#1a1a1a" font-size="14" >1E-6</text><text x="44.5" y="270.6" text-anchor="end" fill="#1a1a1a" stroke="#1a1a1a" font-size="14" >1E-8</text><text x="668.8" y="127.5" text-anchor="start" fill="#008000" stroke="#008000" font-size="14.7" >-15</text><text x="668.8" y="108.33" text-anchor="start" fill="#008000" stroke="#008000" font-size="14.7" >-10</text><text x="668.8" y="89.15" text-anchor="start" fill="#008000" stroke="#008000" font-size="14.7" >-5</text><text x="668.8" y="69.97" text-anchor="start" fill="#008000" stroke="#008000" font-size="14.7" >0</text><text x="668.8" y="50.8" text-anchor="start" fill="#008000" stroke="#008000" font-size="14.7" >5</text><text x="668.8" y="31.62" text-anchor="start" fill="#008000" stroke="#008000" font-size="14.7" >10</text><text x="668.8" y="12.45" text-anchor="start" fill="#008000" stroke="#008000" font-size="14.7" >15</text><text transform="translate(19.4,59) rotate(-90)" text-anchor="middle" fill="#1818b0" stroke="#1818b0" font-size="14.85">Intensity, a.u.</text><text transform="translate(13.2,212.7) rotate(-90)" text-anchor="middle" fill="#000" stroke="#000" font-size="14.85">Intensity, a.u.</text><text transform="translate(704.6,63.6) rotate(-90)" text-anchor="middle" fill="#008000" stroke="#008000" font-size="14.85">Frequency, rad·THz</text><text x="150" y="25.3" text-anchor="start" fill="#1a1a1a" stroke="#1a1a1a" font-size="14.4" >a)</text><text x="313.3" y="30.3" text-anchor="start" fill="#1a1a1a" stroke="#1a1a1a" font-size="14.4" >b)</text><text x="471.9" y="27.3" text-anchor="start" fill="#1a1a1a" stroke="#1a1a1a" font-size="14.4" >c)</text><text x="529.5" y="26.3" text-anchor="start" fill="#1a1a1a" stroke="#1a1a1a" font-size="14.4" >d)</text><text x="173.7" y="181" text-anchor="start" fill="#1a1a1a" stroke="#1a1a1a" font-size="14.4" >e)</text><text x="331.4" y="182" text-anchor="start" fill="#1a1a1a" stroke="#1a1a1a" font-size="14.4" >f)</text><text x="490.5" y="181.5" text-anchor="start" fill="#1a1a1a" stroke="#1a1a1a" font-size="14.4" >g)</text><text x="530.2" y="181" text-anchor="start" fill="#1a1a1a" stroke="#1a1a1a" font-size="14.4" >h)</text></g></svg></body></html>
